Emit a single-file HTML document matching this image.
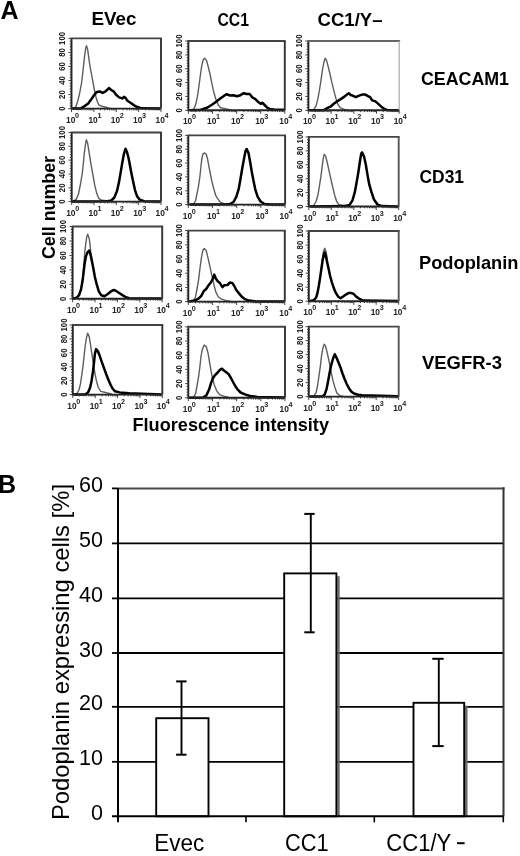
<!DOCTYPE html><html><head><meta charset="utf-8"><style>html,body{margin:0;padding:0;background:#fff;width:520px;height:856px;overflow:hidden}svg{display:block}</style></head><body>
<svg style="filter:grayscale(1) blur(0.3px)" width="520" height="856" viewBox="0 0 520 856" font-family='"Liberation Sans", sans-serif'>
<rect width="520" height="856" fill="#fff"/>
<text x="0.5" y="18.5" font-size="25" font-weight="bold" fill="#000">A</text>
<text x="-2" y="493" font-size="25" font-weight="bold" fill="#000">B</text>
<text x="91.5" y="24.6" font-size="19.0" font-weight="bold" fill="#000" textLength="45.0" lengthAdjust="spacingAndGlyphs">EVec</text>
<text x="217.5" y="25.8" font-size="19.0" font-weight="bold" fill="#000" textLength="31.5" lengthAdjust="spacingAndGlyphs">CC1</text>
<text x="317.5" y="25.8" font-size="19.0" font-weight="bold" fill="#000" textLength="65.0" lengthAdjust="spacingAndGlyphs">CC1/Y–</text>
<text x="421.0" y="85.4" font-size="19.0" font-weight="bold" fill="#000" textLength="88.0" lengthAdjust="spacingAndGlyphs">CEACAM1</text>
<text x="419.5" y="182.8" font-size="19.0" font-weight="bold" fill="#000" textLength="44.5" lengthAdjust="spacingAndGlyphs">CD31</text>
<text x="419.0" y="268.8" font-size="19.0" font-weight="bold" fill="#000" textLength="99.5" lengthAdjust="spacingAndGlyphs">Podoplanin</text>
<text x="422.0" y="368.5" font-size="19.0" font-weight="bold" fill="#000" textLength="80.0" lengthAdjust="spacingAndGlyphs">VEGFR-3</text>
<text x="132.5" y="430.8" font-size="19.0" font-weight="bold" fill="#000" textLength="196.5" lengthAdjust="spacingAndGlyphs">Fluorescence intensity</text>
<text transform="translate(54.5,259) rotate(-90)" x="0" y="0" font-size="19" font-weight="bold" fill="#000" textLength="103" lengthAdjust="spacingAndGlyphs">Cell number</text>
<polyline points="72.3,108.6 75.7,107.3 77.6,101.5 79.5,93.8 81.5,83.3 82.9,71.7 83.9,62.1 84.8,54.4 85.8,47.7 86.5,45.8 87.7,49.6 88.7,57.3 90.1,66.9 91.6,74.6 93.0,82.3 94.4,90.0 95.9,96.7 97.3,101.5 98.8,104.9 101.7,106.3 106.5,107.3 109.3,108.3 112.0,108.6" fill="none" stroke="#5e5e5e" stroke-width="1.4" stroke-linejoin="round"/>
<polyline points="72.3,108.6 80.5,108.5 84.3,106.3 88.2,103.5 91.1,99.6 94.0,95.3 96.8,91.9 99.7,91.4 102.6,92.9 105.5,91.4 108.9,88.1 111.3,90.0 113.9,91.6 116.3,95.0 119.2,97.4 122.1,98.4 124.0,96.9 125.5,97.9 127.4,100.8 131.2,103.2 135.1,106.1 138.9,107.5 140.8,108.3 160.0,108.5" fill="none" stroke="#000" stroke-width="2.5" stroke-linejoin="round"/>
<path d="M71.5 38.4V108.6H161.0" fill="none" stroke="#222" stroke-width="1.9"/>
<line x1="70.6" y1="38.4" x2="161.9" y2="38.4" stroke="#444" stroke-width="1.9"/>
<line x1="161.0" y1="38.4" x2="161.0" y2="108.6" stroke="#333" stroke-width="1.9"/>
<line x1="68.3" y1="108.6" x2="71.5" y2="108.6" stroke="#333" stroke-width="0.9"/>
<line x1="69.7" y1="105.8" x2="71.5" y2="105.8" stroke="#333" stroke-width="0.9"/>
<line x1="69.7" y1="103.0" x2="71.5" y2="103.0" stroke="#333" stroke-width="0.9"/>
<line x1="69.7" y1="100.2" x2="71.5" y2="100.2" stroke="#333" stroke-width="0.9"/>
<line x1="69.7" y1="97.4" x2="71.5" y2="97.4" stroke="#333" stroke-width="0.9"/>
<line x1="68.3" y1="94.6" x2="71.5" y2="94.6" stroke="#333" stroke-width="0.9"/>
<line x1="69.7" y1="91.8" x2="71.5" y2="91.8" stroke="#333" stroke-width="0.9"/>
<line x1="69.7" y1="88.9" x2="71.5" y2="88.9" stroke="#333" stroke-width="0.9"/>
<line x1="69.7" y1="86.1" x2="71.5" y2="86.1" stroke="#333" stroke-width="0.9"/>
<line x1="69.7" y1="83.3" x2="71.5" y2="83.3" stroke="#333" stroke-width="0.9"/>
<line x1="68.3" y1="80.5" x2="71.5" y2="80.5" stroke="#333" stroke-width="0.9"/>
<line x1="69.7" y1="77.7" x2="71.5" y2="77.7" stroke="#333" stroke-width="0.9"/>
<line x1="69.7" y1="74.9" x2="71.5" y2="74.9" stroke="#333" stroke-width="0.9"/>
<line x1="69.7" y1="72.1" x2="71.5" y2="72.1" stroke="#333" stroke-width="0.9"/>
<line x1="69.7" y1="69.3" x2="71.5" y2="69.3" stroke="#333" stroke-width="0.9"/>
<line x1="68.3" y1="66.5" x2="71.5" y2="66.5" stroke="#333" stroke-width="0.9"/>
<line x1="69.7" y1="63.7" x2="71.5" y2="63.7" stroke="#333" stroke-width="0.9"/>
<line x1="69.7" y1="60.9" x2="71.5" y2="60.9" stroke="#333" stroke-width="0.9"/>
<line x1="69.7" y1="58.1" x2="71.5" y2="58.1" stroke="#333" stroke-width="0.9"/>
<line x1="69.7" y1="55.2" x2="71.5" y2="55.2" stroke="#333" stroke-width="0.9"/>
<line x1="68.3" y1="52.4" x2="71.5" y2="52.4" stroke="#333" stroke-width="0.9"/>
<line x1="69.7" y1="49.6" x2="71.5" y2="49.6" stroke="#333" stroke-width="0.9"/>
<line x1="69.7" y1="46.8" x2="71.5" y2="46.8" stroke="#333" stroke-width="0.9"/>
<line x1="69.7" y1="44.0" x2="71.5" y2="44.0" stroke="#333" stroke-width="0.9"/>
<line x1="69.7" y1="41.2" x2="71.5" y2="41.2" stroke="#333" stroke-width="0.9"/>
<line x1="68.3" y1="38.4" x2="71.5" y2="38.4" stroke="#333" stroke-width="0.9"/>
<text transform="translate(65.2,108.6) rotate(-90) scale(0.82,1.05)" font-size="9.5" font-weight="bold" fill="#222" text-anchor="middle">0</text>
<text transform="translate(65.2,94.6) rotate(-90) scale(0.82,1.05)" font-size="9.5" font-weight="bold" fill="#222" text-anchor="middle">20</text>
<text transform="translate(65.2,80.5) rotate(-90) scale(0.82,1.05)" font-size="9.5" font-weight="bold" fill="#222" text-anchor="middle">40</text>
<text transform="translate(65.2,66.5) rotate(-90) scale(0.82,1.05)" font-size="9.5" font-weight="bold" fill="#222" text-anchor="middle">60</text>
<text transform="translate(65.2,52.4) rotate(-90) scale(0.82,1.05)" font-size="9.5" font-weight="bold" fill="#222" text-anchor="middle">80</text>
<text transform="translate(65.2,38.4) rotate(-90) scale(0.82,1.05)" font-size="9.5" font-weight="bold" fill="#222" text-anchor="middle">100</text>
<line x1="71.5" y1="108.6" x2="71.5" y2="112.1" stroke="#333" stroke-width="0.9"/>
<line x1="78.2" y1="108.6" x2="78.2" y2="110.4" stroke="#333" stroke-width="0.9"/>
<line x1="82.2" y1="108.6" x2="82.2" y2="110.4" stroke="#333" stroke-width="0.9"/>
<line x1="85.0" y1="108.6" x2="85.0" y2="110.4" stroke="#333" stroke-width="0.9"/>
<line x1="87.1" y1="108.6" x2="87.1" y2="110.4" stroke="#333" stroke-width="0.9"/>
<line x1="88.9" y1="108.6" x2="88.9" y2="110.4" stroke="#333" stroke-width="0.9"/>
<line x1="90.4" y1="108.6" x2="90.4" y2="110.4" stroke="#333" stroke-width="0.9"/>
<line x1="91.7" y1="108.6" x2="91.7" y2="110.4" stroke="#333" stroke-width="0.9"/>
<line x1="92.9" y1="108.6" x2="92.9" y2="110.4" stroke="#333" stroke-width="0.9"/>
<line x1="93.9" y1="108.6" x2="93.9" y2="112.1" stroke="#333" stroke-width="0.9"/>
<line x1="100.6" y1="108.6" x2="100.6" y2="110.4" stroke="#333" stroke-width="0.9"/>
<line x1="104.6" y1="108.6" x2="104.6" y2="110.4" stroke="#333" stroke-width="0.9"/>
<line x1="107.3" y1="108.6" x2="107.3" y2="110.4" stroke="#333" stroke-width="0.9"/>
<line x1="109.5" y1="108.6" x2="109.5" y2="110.4" stroke="#333" stroke-width="0.9"/>
<line x1="111.3" y1="108.6" x2="111.3" y2="110.4" stroke="#333" stroke-width="0.9"/>
<line x1="112.8" y1="108.6" x2="112.8" y2="110.4" stroke="#333" stroke-width="0.9"/>
<line x1="114.1" y1="108.6" x2="114.1" y2="110.4" stroke="#333" stroke-width="0.9"/>
<line x1="115.2" y1="108.6" x2="115.2" y2="110.4" stroke="#333" stroke-width="0.9"/>
<line x1="116.2" y1="108.6" x2="116.2" y2="112.1" stroke="#333" stroke-width="0.9"/>
<line x1="123.0" y1="108.6" x2="123.0" y2="110.4" stroke="#333" stroke-width="0.9"/>
<line x1="126.9" y1="108.6" x2="126.9" y2="110.4" stroke="#333" stroke-width="0.9"/>
<line x1="129.7" y1="108.6" x2="129.7" y2="110.4" stroke="#333" stroke-width="0.9"/>
<line x1="131.9" y1="108.6" x2="131.9" y2="110.4" stroke="#333" stroke-width="0.9"/>
<line x1="133.7" y1="108.6" x2="133.7" y2="110.4" stroke="#333" stroke-width="0.9"/>
<line x1="135.2" y1="108.6" x2="135.2" y2="110.4" stroke="#333" stroke-width="0.9"/>
<line x1="136.5" y1="108.6" x2="136.5" y2="110.4" stroke="#333" stroke-width="0.9"/>
<line x1="137.6" y1="108.6" x2="137.6" y2="110.4" stroke="#333" stroke-width="0.9"/>
<line x1="138.6" y1="108.6" x2="138.6" y2="112.1" stroke="#333" stroke-width="0.9"/>
<line x1="145.4" y1="108.6" x2="145.4" y2="110.4" stroke="#333" stroke-width="0.9"/>
<line x1="149.3" y1="108.6" x2="149.3" y2="110.4" stroke="#333" stroke-width="0.9"/>
<line x1="152.1" y1="108.6" x2="152.1" y2="110.4" stroke="#333" stroke-width="0.9"/>
<line x1="154.3" y1="108.6" x2="154.3" y2="110.4" stroke="#333" stroke-width="0.9"/>
<line x1="156.0" y1="108.6" x2="156.0" y2="110.4" stroke="#333" stroke-width="0.9"/>
<line x1="157.5" y1="108.6" x2="157.5" y2="110.4" stroke="#333" stroke-width="0.9"/>
<line x1="158.8" y1="108.6" x2="158.8" y2="110.4" stroke="#333" stroke-width="0.9"/>
<line x1="160.0" y1="108.6" x2="160.0" y2="110.4" stroke="#333" stroke-width="0.9"/>
<line x1="161.0" y1="108.6" x2="161.0" y2="112.1" stroke="#333" stroke-width="0.9"/>
<text transform="translate(66.0,122.6) scale(0.9,1)" font-size="9.3" font-weight="bold" fill="#222">10<tspan font-size="8" dx="-0.3" dy="-5.0">0</tspan></text>
<text transform="translate(88.4,122.6) scale(0.9,1)" font-size="9.3" font-weight="bold" fill="#222">10<tspan font-size="8" dx="-0.3" dy="-5.0">1</tspan></text>
<text transform="translate(110.8,122.6) scale(0.9,1)" font-size="9.3" font-weight="bold" fill="#222">10<tspan font-size="8" dx="-0.3" dy="-5.0">2</tspan></text>
<text transform="translate(133.1,122.6) scale(0.9,1)" font-size="9.3" font-weight="bold" fill="#222">10<tspan font-size="8" dx="-0.3" dy="-5.0">3</tspan></text>
<text transform="translate(155.5,122.6) scale(0.9,1)" font-size="9.3" font-weight="bold" fill="#222">10<tspan font-size="8" dx="-0.3" dy="-5.0">4</tspan></text>
<polyline points="189.8,110.3 193.7,109.1 195.6,104.8 197.5,96.2 198.9,86.5 200.4,75.0 201.8,65.4 203.3,59.6 204.7,58.2 206.6,60.6 208.1,66.3 210.0,74.0 211.9,83.7 213.8,92.3 215.8,99.0 218.2,104.8 220.6,107.7 225.4,108.7 231.2,110.1" fill="none" stroke="#5e5e5e" stroke-width="1.4" stroke-linejoin="round"/>
<polyline points="189.8,110.3 199.4,110.1 207.1,107.7 211.9,104.8 215.8,101.9 219.6,99.0 223.5,96.2 226.3,94.2 230.2,95.5 233.5,95.2 236.9,96.3 240.4,95.2 243.8,93.2 246.7,94.0 249.6,94.0 252.5,97.5 255.4,99.2 258.3,102.1 260.6,103.8 262.3,102.7 264.6,105.0 266.9,107.3 269.8,109.0 273.8,109.6 284.2,109.8" fill="none" stroke="#000" stroke-width="2.5" stroke-linejoin="round"/>
<path d="M188.4 41.0V110.3H284.8" fill="none" stroke="#222" stroke-width="1.9"/>
<line x1="187.5" y1="41.0" x2="285.7" y2="41.0" stroke="#444" stroke-width="1.9"/>
<line x1="284.8" y1="41.0" x2="284.8" y2="110.3" stroke="#333" stroke-width="1.9"/>
<line x1="185.2" y1="110.3" x2="188.4" y2="110.3" stroke="#333" stroke-width="0.9"/>
<line x1="186.6" y1="107.5" x2="188.4" y2="107.5" stroke="#333" stroke-width="0.9"/>
<line x1="186.6" y1="104.8" x2="188.4" y2="104.8" stroke="#333" stroke-width="0.9"/>
<line x1="186.6" y1="102.0" x2="188.4" y2="102.0" stroke="#333" stroke-width="0.9"/>
<line x1="186.6" y1="99.2" x2="188.4" y2="99.2" stroke="#333" stroke-width="0.9"/>
<line x1="185.2" y1="96.4" x2="188.4" y2="96.4" stroke="#333" stroke-width="0.9"/>
<line x1="186.6" y1="93.7" x2="188.4" y2="93.7" stroke="#333" stroke-width="0.9"/>
<line x1="186.6" y1="90.9" x2="188.4" y2="90.9" stroke="#333" stroke-width="0.9"/>
<line x1="186.6" y1="88.1" x2="188.4" y2="88.1" stroke="#333" stroke-width="0.9"/>
<line x1="186.6" y1="85.4" x2="188.4" y2="85.4" stroke="#333" stroke-width="0.9"/>
<line x1="185.2" y1="82.6" x2="188.4" y2="82.6" stroke="#333" stroke-width="0.9"/>
<line x1="186.6" y1="79.8" x2="188.4" y2="79.8" stroke="#333" stroke-width="0.9"/>
<line x1="186.6" y1="77.0" x2="188.4" y2="77.0" stroke="#333" stroke-width="0.9"/>
<line x1="186.6" y1="74.3" x2="188.4" y2="74.3" stroke="#333" stroke-width="0.9"/>
<line x1="186.6" y1="71.5" x2="188.4" y2="71.5" stroke="#333" stroke-width="0.9"/>
<line x1="185.2" y1="68.7" x2="188.4" y2="68.7" stroke="#333" stroke-width="0.9"/>
<line x1="186.6" y1="65.9" x2="188.4" y2="65.9" stroke="#333" stroke-width="0.9"/>
<line x1="186.6" y1="63.2" x2="188.4" y2="63.2" stroke="#333" stroke-width="0.9"/>
<line x1="186.6" y1="60.4" x2="188.4" y2="60.4" stroke="#333" stroke-width="0.9"/>
<line x1="186.6" y1="57.6" x2="188.4" y2="57.6" stroke="#333" stroke-width="0.9"/>
<line x1="185.2" y1="54.9" x2="188.4" y2="54.9" stroke="#333" stroke-width="0.9"/>
<line x1="186.6" y1="52.1" x2="188.4" y2="52.1" stroke="#333" stroke-width="0.9"/>
<line x1="186.6" y1="49.3" x2="188.4" y2="49.3" stroke="#333" stroke-width="0.9"/>
<line x1="186.6" y1="46.5" x2="188.4" y2="46.5" stroke="#333" stroke-width="0.9"/>
<line x1="186.6" y1="43.8" x2="188.4" y2="43.8" stroke="#333" stroke-width="0.9"/>
<line x1="185.2" y1="41.0" x2="188.4" y2="41.0" stroke="#333" stroke-width="0.9"/>
<text transform="translate(182.1,110.3) rotate(-90) scale(0.82,1.05)" font-size="9.5" font-weight="bold" fill="#222" text-anchor="middle">0</text>
<text transform="translate(182.1,96.4) rotate(-90) scale(0.82,1.05)" font-size="9.5" font-weight="bold" fill="#222" text-anchor="middle">20</text>
<text transform="translate(182.1,82.6) rotate(-90) scale(0.82,1.05)" font-size="9.5" font-weight="bold" fill="#222" text-anchor="middle">40</text>
<text transform="translate(182.1,68.7) rotate(-90) scale(0.82,1.05)" font-size="9.5" font-weight="bold" fill="#222" text-anchor="middle">60</text>
<text transform="translate(182.1,54.9) rotate(-90) scale(0.82,1.05)" font-size="9.5" font-weight="bold" fill="#222" text-anchor="middle">80</text>
<text transform="translate(182.1,41.0) rotate(-90) scale(0.82,1.05)" font-size="9.5" font-weight="bold" fill="#222" text-anchor="middle">100</text>
<line x1="188.4" y1="110.3" x2="188.4" y2="113.8" stroke="#333" stroke-width="0.9"/>
<line x1="195.7" y1="110.3" x2="195.7" y2="112.1" stroke="#333" stroke-width="0.9"/>
<line x1="199.9" y1="110.3" x2="199.9" y2="112.1" stroke="#333" stroke-width="0.9"/>
<line x1="202.9" y1="110.3" x2="202.9" y2="112.1" stroke="#333" stroke-width="0.9"/>
<line x1="205.2" y1="110.3" x2="205.2" y2="112.1" stroke="#333" stroke-width="0.9"/>
<line x1="207.2" y1="110.3" x2="207.2" y2="112.1" stroke="#333" stroke-width="0.9"/>
<line x1="208.8" y1="110.3" x2="208.8" y2="112.1" stroke="#333" stroke-width="0.9"/>
<line x1="210.2" y1="110.3" x2="210.2" y2="112.1" stroke="#333" stroke-width="0.9"/>
<line x1="211.4" y1="110.3" x2="211.4" y2="112.1" stroke="#333" stroke-width="0.9"/>
<line x1="212.5" y1="110.3" x2="212.5" y2="113.8" stroke="#333" stroke-width="0.9"/>
<line x1="219.8" y1="110.3" x2="219.8" y2="112.1" stroke="#333" stroke-width="0.9"/>
<line x1="224.0" y1="110.3" x2="224.0" y2="112.1" stroke="#333" stroke-width="0.9"/>
<line x1="227.0" y1="110.3" x2="227.0" y2="112.1" stroke="#333" stroke-width="0.9"/>
<line x1="229.3" y1="110.3" x2="229.3" y2="112.1" stroke="#333" stroke-width="0.9"/>
<line x1="231.3" y1="110.3" x2="231.3" y2="112.1" stroke="#333" stroke-width="0.9"/>
<line x1="232.9" y1="110.3" x2="232.9" y2="112.1" stroke="#333" stroke-width="0.9"/>
<line x1="234.3" y1="110.3" x2="234.3" y2="112.1" stroke="#333" stroke-width="0.9"/>
<line x1="235.5" y1="110.3" x2="235.5" y2="112.1" stroke="#333" stroke-width="0.9"/>
<line x1="236.6" y1="110.3" x2="236.6" y2="113.8" stroke="#333" stroke-width="0.9"/>
<line x1="243.9" y1="110.3" x2="243.9" y2="112.1" stroke="#333" stroke-width="0.9"/>
<line x1="248.1" y1="110.3" x2="248.1" y2="112.1" stroke="#333" stroke-width="0.9"/>
<line x1="251.1" y1="110.3" x2="251.1" y2="112.1" stroke="#333" stroke-width="0.9"/>
<line x1="253.4" y1="110.3" x2="253.4" y2="112.1" stroke="#333" stroke-width="0.9"/>
<line x1="255.4" y1="110.3" x2="255.4" y2="112.1" stroke="#333" stroke-width="0.9"/>
<line x1="257.0" y1="110.3" x2="257.0" y2="112.1" stroke="#333" stroke-width="0.9"/>
<line x1="258.4" y1="110.3" x2="258.4" y2="112.1" stroke="#333" stroke-width="0.9"/>
<line x1="259.6" y1="110.3" x2="259.6" y2="112.1" stroke="#333" stroke-width="0.9"/>
<line x1="260.7" y1="110.3" x2="260.7" y2="113.8" stroke="#333" stroke-width="0.9"/>
<line x1="268.0" y1="110.3" x2="268.0" y2="112.1" stroke="#333" stroke-width="0.9"/>
<line x1="272.2" y1="110.3" x2="272.2" y2="112.1" stroke="#333" stroke-width="0.9"/>
<line x1="275.2" y1="110.3" x2="275.2" y2="112.1" stroke="#333" stroke-width="0.9"/>
<line x1="277.5" y1="110.3" x2="277.5" y2="112.1" stroke="#333" stroke-width="0.9"/>
<line x1="279.5" y1="110.3" x2="279.5" y2="112.1" stroke="#333" stroke-width="0.9"/>
<line x1="281.1" y1="110.3" x2="281.1" y2="112.1" stroke="#333" stroke-width="0.9"/>
<line x1="282.5" y1="110.3" x2="282.5" y2="112.1" stroke="#333" stroke-width="0.9"/>
<line x1="283.7" y1="110.3" x2="283.7" y2="112.1" stroke="#333" stroke-width="0.9"/>
<line x1="284.8" y1="110.3" x2="284.8" y2="113.8" stroke="#333" stroke-width="0.9"/>
<text transform="translate(182.9,124.3) scale(0.9,1)" font-size="9.3" font-weight="bold" fill="#222">10<tspan font-size="8" dx="-0.3" dy="-5.0">0</tspan></text>
<text transform="translate(207.0,124.3) scale(0.9,1)" font-size="9.3" font-weight="bold" fill="#222">10<tspan font-size="8" dx="-0.3" dy="-5.0">1</tspan></text>
<text transform="translate(231.1,124.3) scale(0.9,1)" font-size="9.3" font-weight="bold" fill="#222">10<tspan font-size="8" dx="-0.3" dy="-5.0">2</tspan></text>
<text transform="translate(255.2,124.3) scale(0.9,1)" font-size="9.3" font-weight="bold" fill="#222">10<tspan font-size="8" dx="-0.3" dy="-5.0">3</tspan></text>
<text transform="translate(279.3,124.3) scale(0.9,1)" font-size="9.3" font-weight="bold" fill="#222">10<tspan font-size="8" dx="-0.3" dy="-5.0">4</tspan></text>
<polyline points="309.3,110.3 313.7,109.6 316.1,105.8 318.0,98.1 319.4,90.4 320.9,80.8 322.3,71.2 323.8,62.5 325.2,58.2 326.6,60.6 328.1,66.3 330.0,74.0 331.9,82.7 333.8,90.4 335.8,98.1 337.7,103.8 340.1,107.7 343.5,109.1 347.3,110.1" fill="none" stroke="#5e5e5e" stroke-width="1.4" stroke-linejoin="round"/>
<polyline points="309.3,110.3 323.3,110.3 327.1,108.2 331.0,106.3 333.8,103.8 337.7,101.0 341.5,98.6 344.4,96.6 347.3,94.2 348.8,93.3 350.7,95.0 352.6,95.6 355.8,97.2 359.0,95.6 362.2,94.6 365.3,94.6 368.0,96.2 370.1,97.2 372.2,100.4 375.4,101.4 378.0,103.6 380.7,106.2 383.8,108.6 387.0,109.9 392.3,110.3 399.0,110.3" fill="none" stroke="#000" stroke-width="2.5" stroke-linejoin="round"/>
<path d="M308.4 41.0V110.3H399.2" fill="none" stroke="#222" stroke-width="1.9"/>
<line x1="307.5" y1="41.0" x2="400.1" y2="41.0" stroke="#666" stroke-width="1.9"/>
<line x1="399.2" y1="41.0" x2="399.2" y2="110.3" stroke="#aaa" stroke-width="1.2"/>
<line x1="305.2" y1="110.3" x2="308.4" y2="110.3" stroke="#333" stroke-width="0.9"/>
<line x1="306.6" y1="107.5" x2="308.4" y2="107.5" stroke="#333" stroke-width="0.9"/>
<line x1="306.6" y1="104.8" x2="308.4" y2="104.8" stroke="#333" stroke-width="0.9"/>
<line x1="306.6" y1="102.0" x2="308.4" y2="102.0" stroke="#333" stroke-width="0.9"/>
<line x1="306.6" y1="99.2" x2="308.4" y2="99.2" stroke="#333" stroke-width="0.9"/>
<line x1="305.2" y1="96.4" x2="308.4" y2="96.4" stroke="#333" stroke-width="0.9"/>
<line x1="306.6" y1="93.7" x2="308.4" y2="93.7" stroke="#333" stroke-width="0.9"/>
<line x1="306.6" y1="90.9" x2="308.4" y2="90.9" stroke="#333" stroke-width="0.9"/>
<line x1="306.6" y1="88.1" x2="308.4" y2="88.1" stroke="#333" stroke-width="0.9"/>
<line x1="306.6" y1="85.4" x2="308.4" y2="85.4" stroke="#333" stroke-width="0.9"/>
<line x1="305.2" y1="82.6" x2="308.4" y2="82.6" stroke="#333" stroke-width="0.9"/>
<line x1="306.6" y1="79.8" x2="308.4" y2="79.8" stroke="#333" stroke-width="0.9"/>
<line x1="306.6" y1="77.0" x2="308.4" y2="77.0" stroke="#333" stroke-width="0.9"/>
<line x1="306.6" y1="74.3" x2="308.4" y2="74.3" stroke="#333" stroke-width="0.9"/>
<line x1="306.6" y1="71.5" x2="308.4" y2="71.5" stroke="#333" stroke-width="0.9"/>
<line x1="305.2" y1="68.7" x2="308.4" y2="68.7" stroke="#333" stroke-width="0.9"/>
<line x1="306.6" y1="65.9" x2="308.4" y2="65.9" stroke="#333" stroke-width="0.9"/>
<line x1="306.6" y1="63.2" x2="308.4" y2="63.2" stroke="#333" stroke-width="0.9"/>
<line x1="306.6" y1="60.4" x2="308.4" y2="60.4" stroke="#333" stroke-width="0.9"/>
<line x1="306.6" y1="57.6" x2="308.4" y2="57.6" stroke="#333" stroke-width="0.9"/>
<line x1="305.2" y1="54.9" x2="308.4" y2="54.9" stroke="#333" stroke-width="0.9"/>
<line x1="306.6" y1="52.1" x2="308.4" y2="52.1" stroke="#333" stroke-width="0.9"/>
<line x1="306.6" y1="49.3" x2="308.4" y2="49.3" stroke="#333" stroke-width="0.9"/>
<line x1="306.6" y1="46.5" x2="308.4" y2="46.5" stroke="#333" stroke-width="0.9"/>
<line x1="306.6" y1="43.8" x2="308.4" y2="43.8" stroke="#333" stroke-width="0.9"/>
<line x1="305.2" y1="41.0" x2="308.4" y2="41.0" stroke="#333" stroke-width="0.9"/>
<text transform="translate(302.1,110.3) rotate(-90) scale(0.82,1.05)" font-size="9.5" font-weight="bold" fill="#222" text-anchor="middle">0</text>
<text transform="translate(302.1,96.4) rotate(-90) scale(0.82,1.05)" font-size="9.5" font-weight="bold" fill="#222" text-anchor="middle">20</text>
<text transform="translate(302.1,82.6) rotate(-90) scale(0.82,1.05)" font-size="9.5" font-weight="bold" fill="#222" text-anchor="middle">40</text>
<text transform="translate(302.1,68.7) rotate(-90) scale(0.82,1.05)" font-size="9.5" font-weight="bold" fill="#222" text-anchor="middle">60</text>
<text transform="translate(302.1,54.9) rotate(-90) scale(0.82,1.05)" font-size="9.5" font-weight="bold" fill="#222" text-anchor="middle">80</text>
<text transform="translate(302.1,41.0) rotate(-90) scale(0.82,1.05)" font-size="9.5" font-weight="bold" fill="#222" text-anchor="middle">100</text>
<line x1="308.4" y1="110.3" x2="308.4" y2="113.8" stroke="#333" stroke-width="0.9"/>
<line x1="315.2" y1="110.3" x2="315.2" y2="112.1" stroke="#333" stroke-width="0.9"/>
<line x1="319.2" y1="110.3" x2="319.2" y2="112.1" stroke="#333" stroke-width="0.9"/>
<line x1="322.1" y1="110.3" x2="322.1" y2="112.1" stroke="#333" stroke-width="0.9"/>
<line x1="324.3" y1="110.3" x2="324.3" y2="112.1" stroke="#333" stroke-width="0.9"/>
<line x1="326.1" y1="110.3" x2="326.1" y2="112.1" stroke="#333" stroke-width="0.9"/>
<line x1="327.6" y1="110.3" x2="327.6" y2="112.1" stroke="#333" stroke-width="0.9"/>
<line x1="328.9" y1="110.3" x2="328.9" y2="112.1" stroke="#333" stroke-width="0.9"/>
<line x1="330.1" y1="110.3" x2="330.1" y2="112.1" stroke="#333" stroke-width="0.9"/>
<line x1="331.1" y1="110.3" x2="331.1" y2="113.8" stroke="#333" stroke-width="0.9"/>
<line x1="337.9" y1="110.3" x2="337.9" y2="112.1" stroke="#333" stroke-width="0.9"/>
<line x1="341.9" y1="110.3" x2="341.9" y2="112.1" stroke="#333" stroke-width="0.9"/>
<line x1="344.8" y1="110.3" x2="344.8" y2="112.1" stroke="#333" stroke-width="0.9"/>
<line x1="347.0" y1="110.3" x2="347.0" y2="112.1" stroke="#333" stroke-width="0.9"/>
<line x1="348.8" y1="110.3" x2="348.8" y2="112.1" stroke="#333" stroke-width="0.9"/>
<line x1="350.3" y1="110.3" x2="350.3" y2="112.1" stroke="#333" stroke-width="0.9"/>
<line x1="351.6" y1="110.3" x2="351.6" y2="112.1" stroke="#333" stroke-width="0.9"/>
<line x1="352.8" y1="110.3" x2="352.8" y2="112.1" stroke="#333" stroke-width="0.9"/>
<line x1="353.8" y1="110.3" x2="353.8" y2="113.8" stroke="#333" stroke-width="0.9"/>
<line x1="360.6" y1="110.3" x2="360.6" y2="112.1" stroke="#333" stroke-width="0.9"/>
<line x1="364.6" y1="110.3" x2="364.6" y2="112.1" stroke="#333" stroke-width="0.9"/>
<line x1="367.5" y1="110.3" x2="367.5" y2="112.1" stroke="#333" stroke-width="0.9"/>
<line x1="369.7" y1="110.3" x2="369.7" y2="112.1" stroke="#333" stroke-width="0.9"/>
<line x1="371.5" y1="110.3" x2="371.5" y2="112.1" stroke="#333" stroke-width="0.9"/>
<line x1="373.0" y1="110.3" x2="373.0" y2="112.1" stroke="#333" stroke-width="0.9"/>
<line x1="374.3" y1="110.3" x2="374.3" y2="112.1" stroke="#333" stroke-width="0.9"/>
<line x1="375.5" y1="110.3" x2="375.5" y2="112.1" stroke="#333" stroke-width="0.9"/>
<line x1="376.5" y1="110.3" x2="376.5" y2="113.8" stroke="#333" stroke-width="0.9"/>
<line x1="383.3" y1="110.3" x2="383.3" y2="112.1" stroke="#333" stroke-width="0.9"/>
<line x1="387.3" y1="110.3" x2="387.3" y2="112.1" stroke="#333" stroke-width="0.9"/>
<line x1="390.2" y1="110.3" x2="390.2" y2="112.1" stroke="#333" stroke-width="0.9"/>
<line x1="392.4" y1="110.3" x2="392.4" y2="112.1" stroke="#333" stroke-width="0.9"/>
<line x1="394.2" y1="110.3" x2="394.2" y2="112.1" stroke="#333" stroke-width="0.9"/>
<line x1="395.7" y1="110.3" x2="395.7" y2="112.1" stroke="#333" stroke-width="0.9"/>
<line x1="397.0" y1="110.3" x2="397.0" y2="112.1" stroke="#333" stroke-width="0.9"/>
<line x1="398.2" y1="110.3" x2="398.2" y2="112.1" stroke="#333" stroke-width="0.9"/>
<line x1="399.2" y1="110.3" x2="399.2" y2="113.8" stroke="#333" stroke-width="0.9"/>
<text transform="translate(302.9,124.3) scale(0.9,1)" font-size="9.3" font-weight="bold" fill="#222">10<tspan font-size="8" dx="-0.3" dy="-5.0">0</tspan></text>
<text transform="translate(325.6,124.3) scale(0.9,1)" font-size="9.3" font-weight="bold" fill="#222">10<tspan font-size="8" dx="-0.3" dy="-5.0">1</tspan></text>
<text transform="translate(348.3,124.3) scale(0.9,1)" font-size="9.3" font-weight="bold" fill="#222">10<tspan font-size="8" dx="-0.3" dy="-5.0">2</tspan></text>
<text transform="translate(371.0,124.3) scale(0.9,1)" font-size="9.3" font-weight="bold" fill="#222">10<tspan font-size="8" dx="-0.3" dy="-5.0">3</tspan></text>
<text transform="translate(393.7,124.3) scale(0.9,1)" font-size="9.3" font-weight="bold" fill="#222">10<tspan font-size="8" dx="-0.3" dy="-5.0">4</tspan></text>
<polyline points="72.3,201.6 76.2,199.4 78.6,193.6 80.5,184.0 82.4,172.5 83.4,162.8 84.3,153.2 85.3,145.5 86.3,139.8 87.7,143.6 89.2,153.2 91.1,164.8 93.0,175.3 94.9,185.9 96.8,193.6 98.8,198.4 101.7,200.3 106.5,200.8 109.3,200.5" fill="none" stroke="#5e5e5e" stroke-width="1.4" stroke-linejoin="round"/>
<polyline points="72.3,201.6 108.0,201.2 111.2,200.6 114.3,197.5 117.0,191.1 119.1,181.6 120.7,172.1 122.3,162.6 123.9,154.1 125.5,148.8 127.0,152.0 128.6,158.3 130.2,166.8 131.8,175.2 133.4,182.7 135.0,190.1 137.1,196.4 139.7,199.6 144.0,201.2 160.5,201.4" fill="none" stroke="#000" stroke-width="2.5" stroke-linejoin="round"/>
<path d="M71.7 132.5V201.6H161.0" fill="none" stroke="#222" stroke-width="1.9"/>
<line x1="70.8" y1="132.5" x2="161.9" y2="132.5" stroke="#444" stroke-width="1.9"/>
<line x1="161.0" y1="132.5" x2="161.0" y2="201.6" stroke="#333" stroke-width="1.9"/>
<line x1="68.5" y1="201.6" x2="71.7" y2="201.6" stroke="#333" stroke-width="0.9"/>
<line x1="69.9" y1="198.8" x2="71.7" y2="198.8" stroke="#333" stroke-width="0.9"/>
<line x1="69.9" y1="196.1" x2="71.7" y2="196.1" stroke="#333" stroke-width="0.9"/>
<line x1="69.9" y1="193.3" x2="71.7" y2="193.3" stroke="#333" stroke-width="0.9"/>
<line x1="69.9" y1="190.5" x2="71.7" y2="190.5" stroke="#333" stroke-width="0.9"/>
<line x1="68.5" y1="187.8" x2="71.7" y2="187.8" stroke="#333" stroke-width="0.9"/>
<line x1="69.9" y1="185.0" x2="71.7" y2="185.0" stroke="#333" stroke-width="0.9"/>
<line x1="69.9" y1="182.3" x2="71.7" y2="182.3" stroke="#333" stroke-width="0.9"/>
<line x1="69.9" y1="179.5" x2="71.7" y2="179.5" stroke="#333" stroke-width="0.9"/>
<line x1="69.9" y1="176.7" x2="71.7" y2="176.7" stroke="#333" stroke-width="0.9"/>
<line x1="68.5" y1="174.0" x2="71.7" y2="174.0" stroke="#333" stroke-width="0.9"/>
<line x1="69.9" y1="171.2" x2="71.7" y2="171.2" stroke="#333" stroke-width="0.9"/>
<line x1="69.9" y1="168.4" x2="71.7" y2="168.4" stroke="#333" stroke-width="0.9"/>
<line x1="69.9" y1="165.7" x2="71.7" y2="165.7" stroke="#333" stroke-width="0.9"/>
<line x1="69.9" y1="162.9" x2="71.7" y2="162.9" stroke="#333" stroke-width="0.9"/>
<line x1="68.5" y1="160.1" x2="71.7" y2="160.1" stroke="#333" stroke-width="0.9"/>
<line x1="69.9" y1="157.4" x2="71.7" y2="157.4" stroke="#333" stroke-width="0.9"/>
<line x1="69.9" y1="154.6" x2="71.7" y2="154.6" stroke="#333" stroke-width="0.9"/>
<line x1="69.9" y1="151.8" x2="71.7" y2="151.8" stroke="#333" stroke-width="0.9"/>
<line x1="69.9" y1="149.1" x2="71.7" y2="149.1" stroke="#333" stroke-width="0.9"/>
<line x1="68.5" y1="146.3" x2="71.7" y2="146.3" stroke="#333" stroke-width="0.9"/>
<line x1="69.9" y1="143.6" x2="71.7" y2="143.6" stroke="#333" stroke-width="0.9"/>
<line x1="69.9" y1="140.8" x2="71.7" y2="140.8" stroke="#333" stroke-width="0.9"/>
<line x1="69.9" y1="138.0" x2="71.7" y2="138.0" stroke="#333" stroke-width="0.9"/>
<line x1="69.9" y1="135.3" x2="71.7" y2="135.3" stroke="#333" stroke-width="0.9"/>
<line x1="68.5" y1="132.5" x2="71.7" y2="132.5" stroke="#333" stroke-width="0.9"/>
<text transform="translate(65.4,201.6) rotate(-90) scale(0.82,1.05)" font-size="9.5" font-weight="bold" fill="#222" text-anchor="middle">0</text>
<text transform="translate(65.4,187.8) rotate(-90) scale(0.82,1.05)" font-size="9.5" font-weight="bold" fill="#222" text-anchor="middle">20</text>
<text transform="translate(65.4,174.0) rotate(-90) scale(0.82,1.05)" font-size="9.5" font-weight="bold" fill="#222" text-anchor="middle">40</text>
<text transform="translate(65.4,160.1) rotate(-90) scale(0.82,1.05)" font-size="9.5" font-weight="bold" fill="#222" text-anchor="middle">60</text>
<text transform="translate(65.4,146.3) rotate(-90) scale(0.82,1.05)" font-size="9.5" font-weight="bold" fill="#222" text-anchor="middle">80</text>
<text transform="translate(65.4,132.5) rotate(-90) scale(0.82,1.05)" font-size="9.5" font-weight="bold" fill="#222" text-anchor="middle">100</text>
<line x1="71.7" y1="201.6" x2="71.7" y2="205.1" stroke="#333" stroke-width="0.9"/>
<line x1="78.4" y1="201.6" x2="78.4" y2="203.4" stroke="#333" stroke-width="0.9"/>
<line x1="82.4" y1="201.6" x2="82.4" y2="203.4" stroke="#333" stroke-width="0.9"/>
<line x1="85.1" y1="201.6" x2="85.1" y2="203.4" stroke="#333" stroke-width="0.9"/>
<line x1="87.3" y1="201.6" x2="87.3" y2="203.4" stroke="#333" stroke-width="0.9"/>
<line x1="89.1" y1="201.6" x2="89.1" y2="203.4" stroke="#333" stroke-width="0.9"/>
<line x1="90.6" y1="201.6" x2="90.6" y2="203.4" stroke="#333" stroke-width="0.9"/>
<line x1="91.9" y1="201.6" x2="91.9" y2="203.4" stroke="#333" stroke-width="0.9"/>
<line x1="93.0" y1="201.6" x2="93.0" y2="203.4" stroke="#333" stroke-width="0.9"/>
<line x1="94.0" y1="201.6" x2="94.0" y2="205.1" stroke="#333" stroke-width="0.9"/>
<line x1="100.7" y1="201.6" x2="100.7" y2="203.4" stroke="#333" stroke-width="0.9"/>
<line x1="104.7" y1="201.6" x2="104.7" y2="203.4" stroke="#333" stroke-width="0.9"/>
<line x1="107.5" y1="201.6" x2="107.5" y2="203.4" stroke="#333" stroke-width="0.9"/>
<line x1="109.6" y1="201.6" x2="109.6" y2="203.4" stroke="#333" stroke-width="0.9"/>
<line x1="111.4" y1="201.6" x2="111.4" y2="203.4" stroke="#333" stroke-width="0.9"/>
<line x1="112.9" y1="201.6" x2="112.9" y2="203.4" stroke="#333" stroke-width="0.9"/>
<line x1="114.2" y1="201.6" x2="114.2" y2="203.4" stroke="#333" stroke-width="0.9"/>
<line x1="115.3" y1="201.6" x2="115.3" y2="203.4" stroke="#333" stroke-width="0.9"/>
<line x1="116.3" y1="201.6" x2="116.3" y2="205.1" stroke="#333" stroke-width="0.9"/>
<line x1="123.1" y1="201.6" x2="123.1" y2="203.4" stroke="#333" stroke-width="0.9"/>
<line x1="127.0" y1="201.6" x2="127.0" y2="203.4" stroke="#333" stroke-width="0.9"/>
<line x1="129.8" y1="201.6" x2="129.8" y2="203.4" stroke="#333" stroke-width="0.9"/>
<line x1="132.0" y1="201.6" x2="132.0" y2="203.4" stroke="#333" stroke-width="0.9"/>
<line x1="133.7" y1="201.6" x2="133.7" y2="203.4" stroke="#333" stroke-width="0.9"/>
<line x1="135.2" y1="201.6" x2="135.2" y2="203.4" stroke="#333" stroke-width="0.9"/>
<line x1="136.5" y1="201.6" x2="136.5" y2="203.4" stroke="#333" stroke-width="0.9"/>
<line x1="137.7" y1="201.6" x2="137.7" y2="203.4" stroke="#333" stroke-width="0.9"/>
<line x1="138.7" y1="201.6" x2="138.7" y2="205.1" stroke="#333" stroke-width="0.9"/>
<line x1="145.4" y1="201.6" x2="145.4" y2="203.4" stroke="#333" stroke-width="0.9"/>
<line x1="149.3" y1="201.6" x2="149.3" y2="203.4" stroke="#333" stroke-width="0.9"/>
<line x1="152.1" y1="201.6" x2="152.1" y2="203.4" stroke="#333" stroke-width="0.9"/>
<line x1="154.3" y1="201.6" x2="154.3" y2="203.4" stroke="#333" stroke-width="0.9"/>
<line x1="156.0" y1="201.6" x2="156.0" y2="203.4" stroke="#333" stroke-width="0.9"/>
<line x1="157.5" y1="201.6" x2="157.5" y2="203.4" stroke="#333" stroke-width="0.9"/>
<line x1="158.8" y1="201.6" x2="158.8" y2="203.4" stroke="#333" stroke-width="0.9"/>
<line x1="160.0" y1="201.6" x2="160.0" y2="203.4" stroke="#333" stroke-width="0.9"/>
<line x1="161.0" y1="201.6" x2="161.0" y2="205.1" stroke="#333" stroke-width="0.9"/>
<text transform="translate(66.2,215.6) scale(0.9,1)" font-size="9.3" font-weight="bold" fill="#222">10<tspan font-size="8" dx="-0.3" dy="-5.0">0</tspan></text>
<text transform="translate(88.5,215.6) scale(0.9,1)" font-size="9.3" font-weight="bold" fill="#222">10<tspan font-size="8" dx="-0.3" dy="-5.0">1</tspan></text>
<text transform="translate(110.8,215.6) scale(0.9,1)" font-size="9.3" font-weight="bold" fill="#222">10<tspan font-size="8" dx="-0.3" dy="-5.0">2</tspan></text>
<text transform="translate(133.2,215.6) scale(0.9,1)" font-size="9.3" font-weight="bold" fill="#222">10<tspan font-size="8" dx="-0.3" dy="-5.0">3</tspan></text>
<text transform="translate(155.5,215.6) scale(0.9,1)" font-size="9.3" font-weight="bold" fill="#222">10<tspan font-size="8" dx="-0.3" dy="-5.0">4</tspan></text>
<polyline points="189.8,204.6 193.7,203.9 195.6,200.5 197.0,193.8 198.5,186.1 199.9,176.5 200.9,166.8 201.8,159.2 202.8,154.3 204.2,152.9 206.2,154.3 207.6,159.2 209.0,166.8 210.5,174.5 211.9,181.3 213.8,189.0 215.8,195.7 218.2,199.5 220.6,202.4 223.5,203.4 227.3,203.9 230.2,203.6" fill="none" stroke="#5e5e5e" stroke-width="1.4" stroke-linejoin="round"/>
<polyline points="189.8,204.6 227.0,204.3 230.0,204.1 233.5,202.0 236.3,196.8 238.7,188.8 240.4,179.5 242.1,169.2 243.8,159.9 245.6,150.7 246.7,149.0 248.5,153.0 250.2,162.2 251.9,172.6 253.7,181.8 255.4,189.9 257.7,196.8 260.6,201.5 264.6,204.0 270.4,204.6 284.6,204.6" fill="none" stroke="#000" stroke-width="2.5" stroke-linejoin="round"/>
<path d="M188.3 135.4V204.6H285.1" fill="none" stroke="#222" stroke-width="1.9"/>
<line x1="187.4" y1="135.4" x2="286.0" y2="135.4" stroke="#444" stroke-width="1.9"/>
<line x1="285.1" y1="135.4" x2="285.1" y2="204.6" stroke="#333" stroke-width="1.9"/>
<line x1="185.1" y1="204.6" x2="188.3" y2="204.6" stroke="#333" stroke-width="0.9"/>
<line x1="186.5" y1="201.8" x2="188.3" y2="201.8" stroke="#333" stroke-width="0.9"/>
<line x1="186.5" y1="199.1" x2="188.3" y2="199.1" stroke="#333" stroke-width="0.9"/>
<line x1="186.5" y1="196.3" x2="188.3" y2="196.3" stroke="#333" stroke-width="0.9"/>
<line x1="186.5" y1="193.5" x2="188.3" y2="193.5" stroke="#333" stroke-width="0.9"/>
<line x1="185.1" y1="190.8" x2="188.3" y2="190.8" stroke="#333" stroke-width="0.9"/>
<line x1="186.5" y1="188.0" x2="188.3" y2="188.0" stroke="#333" stroke-width="0.9"/>
<line x1="186.5" y1="185.2" x2="188.3" y2="185.2" stroke="#333" stroke-width="0.9"/>
<line x1="186.5" y1="182.5" x2="188.3" y2="182.5" stroke="#333" stroke-width="0.9"/>
<line x1="186.5" y1="179.7" x2="188.3" y2="179.7" stroke="#333" stroke-width="0.9"/>
<line x1="185.1" y1="176.9" x2="188.3" y2="176.9" stroke="#333" stroke-width="0.9"/>
<line x1="186.5" y1="174.2" x2="188.3" y2="174.2" stroke="#333" stroke-width="0.9"/>
<line x1="186.5" y1="171.4" x2="188.3" y2="171.4" stroke="#333" stroke-width="0.9"/>
<line x1="186.5" y1="168.6" x2="188.3" y2="168.6" stroke="#333" stroke-width="0.9"/>
<line x1="186.5" y1="165.8" x2="188.3" y2="165.8" stroke="#333" stroke-width="0.9"/>
<line x1="185.1" y1="163.1" x2="188.3" y2="163.1" stroke="#333" stroke-width="0.9"/>
<line x1="186.5" y1="160.3" x2="188.3" y2="160.3" stroke="#333" stroke-width="0.9"/>
<line x1="186.5" y1="157.5" x2="188.3" y2="157.5" stroke="#333" stroke-width="0.9"/>
<line x1="186.5" y1="154.8" x2="188.3" y2="154.8" stroke="#333" stroke-width="0.9"/>
<line x1="186.5" y1="152.0" x2="188.3" y2="152.0" stroke="#333" stroke-width="0.9"/>
<line x1="185.1" y1="149.2" x2="188.3" y2="149.2" stroke="#333" stroke-width="0.9"/>
<line x1="186.5" y1="146.5" x2="188.3" y2="146.5" stroke="#333" stroke-width="0.9"/>
<line x1="186.5" y1="143.7" x2="188.3" y2="143.7" stroke="#333" stroke-width="0.9"/>
<line x1="186.5" y1="140.9" x2="188.3" y2="140.9" stroke="#333" stroke-width="0.9"/>
<line x1="186.5" y1="138.2" x2="188.3" y2="138.2" stroke="#333" stroke-width="0.9"/>
<line x1="185.1" y1="135.4" x2="188.3" y2="135.4" stroke="#333" stroke-width="0.9"/>
<text transform="translate(182.0,204.6) rotate(-90) scale(0.82,1.05)" font-size="9.5" font-weight="bold" fill="#222" text-anchor="middle">0</text>
<text transform="translate(182.0,190.8) rotate(-90) scale(0.82,1.05)" font-size="9.5" font-weight="bold" fill="#222" text-anchor="middle">20</text>
<text transform="translate(182.0,176.9) rotate(-90) scale(0.82,1.05)" font-size="9.5" font-weight="bold" fill="#222" text-anchor="middle">40</text>
<text transform="translate(182.0,163.1) rotate(-90) scale(0.82,1.05)" font-size="9.5" font-weight="bold" fill="#222" text-anchor="middle">60</text>
<text transform="translate(182.0,149.2) rotate(-90) scale(0.82,1.05)" font-size="9.5" font-weight="bold" fill="#222" text-anchor="middle">80</text>
<text transform="translate(182.0,135.4) rotate(-90) scale(0.82,1.05)" font-size="9.5" font-weight="bold" fill="#222" text-anchor="middle">100</text>
<line x1="188.3" y1="204.6" x2="188.3" y2="208.1" stroke="#333" stroke-width="0.9"/>
<line x1="195.6" y1="204.6" x2="195.6" y2="206.4" stroke="#333" stroke-width="0.9"/>
<line x1="199.8" y1="204.6" x2="199.8" y2="206.4" stroke="#333" stroke-width="0.9"/>
<line x1="202.9" y1="204.6" x2="202.9" y2="206.4" stroke="#333" stroke-width="0.9"/>
<line x1="205.2" y1="204.6" x2="205.2" y2="206.4" stroke="#333" stroke-width="0.9"/>
<line x1="207.1" y1="204.6" x2="207.1" y2="206.4" stroke="#333" stroke-width="0.9"/>
<line x1="208.8" y1="204.6" x2="208.8" y2="206.4" stroke="#333" stroke-width="0.9"/>
<line x1="210.2" y1="204.6" x2="210.2" y2="206.4" stroke="#333" stroke-width="0.9"/>
<line x1="211.4" y1="204.6" x2="211.4" y2="206.4" stroke="#333" stroke-width="0.9"/>
<line x1="212.5" y1="204.6" x2="212.5" y2="208.1" stroke="#333" stroke-width="0.9"/>
<line x1="219.8" y1="204.6" x2="219.8" y2="206.4" stroke="#333" stroke-width="0.9"/>
<line x1="224.0" y1="204.6" x2="224.0" y2="206.4" stroke="#333" stroke-width="0.9"/>
<line x1="227.1" y1="204.6" x2="227.1" y2="206.4" stroke="#333" stroke-width="0.9"/>
<line x1="229.4" y1="204.6" x2="229.4" y2="206.4" stroke="#333" stroke-width="0.9"/>
<line x1="231.3" y1="204.6" x2="231.3" y2="206.4" stroke="#333" stroke-width="0.9"/>
<line x1="233.0" y1="204.6" x2="233.0" y2="206.4" stroke="#333" stroke-width="0.9"/>
<line x1="234.4" y1="204.6" x2="234.4" y2="206.4" stroke="#333" stroke-width="0.9"/>
<line x1="235.6" y1="204.6" x2="235.6" y2="206.4" stroke="#333" stroke-width="0.9"/>
<line x1="236.7" y1="204.6" x2="236.7" y2="208.1" stroke="#333" stroke-width="0.9"/>
<line x1="244.0" y1="204.6" x2="244.0" y2="206.4" stroke="#333" stroke-width="0.9"/>
<line x1="248.2" y1="204.6" x2="248.2" y2="206.4" stroke="#333" stroke-width="0.9"/>
<line x1="251.3" y1="204.6" x2="251.3" y2="206.4" stroke="#333" stroke-width="0.9"/>
<line x1="253.6" y1="204.6" x2="253.6" y2="206.4" stroke="#333" stroke-width="0.9"/>
<line x1="255.5" y1="204.6" x2="255.5" y2="206.4" stroke="#333" stroke-width="0.9"/>
<line x1="257.2" y1="204.6" x2="257.2" y2="206.4" stroke="#333" stroke-width="0.9"/>
<line x1="258.6" y1="204.6" x2="258.6" y2="206.4" stroke="#333" stroke-width="0.9"/>
<line x1="259.8" y1="204.6" x2="259.8" y2="206.4" stroke="#333" stroke-width="0.9"/>
<line x1="260.9" y1="204.6" x2="260.9" y2="208.1" stroke="#333" stroke-width="0.9"/>
<line x1="268.2" y1="204.6" x2="268.2" y2="206.4" stroke="#333" stroke-width="0.9"/>
<line x1="272.4" y1="204.6" x2="272.4" y2="206.4" stroke="#333" stroke-width="0.9"/>
<line x1="275.5" y1="204.6" x2="275.5" y2="206.4" stroke="#333" stroke-width="0.9"/>
<line x1="277.8" y1="204.6" x2="277.8" y2="206.4" stroke="#333" stroke-width="0.9"/>
<line x1="279.7" y1="204.6" x2="279.7" y2="206.4" stroke="#333" stroke-width="0.9"/>
<line x1="281.4" y1="204.6" x2="281.4" y2="206.4" stroke="#333" stroke-width="0.9"/>
<line x1="282.8" y1="204.6" x2="282.8" y2="206.4" stroke="#333" stroke-width="0.9"/>
<line x1="284.0" y1="204.6" x2="284.0" y2="206.4" stroke="#333" stroke-width="0.9"/>
<line x1="285.1" y1="204.6" x2="285.1" y2="208.1" stroke="#333" stroke-width="0.9"/>
<text transform="translate(182.8,218.6) scale(0.9,1)" font-size="9.3" font-weight="bold" fill="#222">10<tspan font-size="8" dx="-0.3" dy="-5.0">0</tspan></text>
<text transform="translate(207.0,218.6) scale(0.9,1)" font-size="9.3" font-weight="bold" fill="#222">10<tspan font-size="8" dx="-0.3" dy="-5.0">1</tspan></text>
<text transform="translate(231.2,218.6) scale(0.9,1)" font-size="9.3" font-weight="bold" fill="#222">10<tspan font-size="8" dx="-0.3" dy="-5.0">2</tspan></text>
<text transform="translate(255.4,218.6) scale(0.9,1)" font-size="9.3" font-weight="bold" fill="#222">10<tspan font-size="8" dx="-0.3" dy="-5.0">3</tspan></text>
<text transform="translate(279.6,218.6) scale(0.9,1)" font-size="9.3" font-weight="bold" fill="#222">10<tspan font-size="8" dx="-0.3" dy="-5.0">4</tspan></text>
<polyline points="310.3,206.5 313.7,205.3 316.1,201.5 318.0,194.7 319.4,186.1 320.9,176.5 322.1,166.8 323.3,158.2 324.2,154.3 325.7,156.3 327.1,162.0 329.0,170.7 331.0,179.3 332.9,188.0 334.8,195.7 336.7,201.5 339.1,204.8 343.5,205.8 347.3,205.3 350.2,204.8" fill="none" stroke="#5e5e5e" stroke-width="1.4" stroke-linejoin="round"/>
<polyline points="310.3,206.5 345.0,206.1 349.6,204.9 352.5,200.3 354.8,192.2 356.5,183.0 358.3,172.6 359.8,162.2 361.2,153.6 362.1,152.4 364.0,156.5 365.8,164.5 367.5,174.9 369.2,184.2 371.5,192.2 373.8,199.2 377.3,204.3 381.9,206.1 398.2,206.5" fill="none" stroke="#000" stroke-width="2.5" stroke-linejoin="round"/>
<path d="M308.8 136.9V206.5H398.7" fill="none" stroke="#222" stroke-width="1.9"/>
<line x1="307.9" y1="136.9" x2="399.6" y2="136.9" stroke="#444" stroke-width="1.9"/>
<line x1="398.7" y1="136.9" x2="398.7" y2="206.5" stroke="#555" stroke-width="1.9"/>
<line x1="305.6" y1="206.5" x2="308.8" y2="206.5" stroke="#333" stroke-width="0.9"/>
<line x1="307.0" y1="203.7" x2="308.8" y2="203.7" stroke="#333" stroke-width="0.9"/>
<line x1="307.0" y1="200.9" x2="308.8" y2="200.9" stroke="#333" stroke-width="0.9"/>
<line x1="307.0" y1="198.1" x2="308.8" y2="198.1" stroke="#333" stroke-width="0.9"/>
<line x1="307.0" y1="195.4" x2="308.8" y2="195.4" stroke="#333" stroke-width="0.9"/>
<line x1="305.6" y1="192.6" x2="308.8" y2="192.6" stroke="#333" stroke-width="0.9"/>
<line x1="307.0" y1="189.8" x2="308.8" y2="189.8" stroke="#333" stroke-width="0.9"/>
<line x1="307.0" y1="187.0" x2="308.8" y2="187.0" stroke="#333" stroke-width="0.9"/>
<line x1="307.0" y1="184.2" x2="308.8" y2="184.2" stroke="#333" stroke-width="0.9"/>
<line x1="307.0" y1="181.4" x2="308.8" y2="181.4" stroke="#333" stroke-width="0.9"/>
<line x1="305.6" y1="178.7" x2="308.8" y2="178.7" stroke="#333" stroke-width="0.9"/>
<line x1="307.0" y1="175.9" x2="308.8" y2="175.9" stroke="#333" stroke-width="0.9"/>
<line x1="307.0" y1="173.1" x2="308.8" y2="173.1" stroke="#333" stroke-width="0.9"/>
<line x1="307.0" y1="170.3" x2="308.8" y2="170.3" stroke="#333" stroke-width="0.9"/>
<line x1="307.0" y1="167.5" x2="308.8" y2="167.5" stroke="#333" stroke-width="0.9"/>
<line x1="305.6" y1="164.7" x2="308.8" y2="164.7" stroke="#333" stroke-width="0.9"/>
<line x1="307.0" y1="162.0" x2="308.8" y2="162.0" stroke="#333" stroke-width="0.9"/>
<line x1="307.0" y1="159.2" x2="308.8" y2="159.2" stroke="#333" stroke-width="0.9"/>
<line x1="307.0" y1="156.4" x2="308.8" y2="156.4" stroke="#333" stroke-width="0.9"/>
<line x1="307.0" y1="153.6" x2="308.8" y2="153.6" stroke="#333" stroke-width="0.9"/>
<line x1="305.6" y1="150.8" x2="308.8" y2="150.8" stroke="#333" stroke-width="0.9"/>
<line x1="307.0" y1="148.0" x2="308.8" y2="148.0" stroke="#333" stroke-width="0.9"/>
<line x1="307.0" y1="145.3" x2="308.8" y2="145.3" stroke="#333" stroke-width="0.9"/>
<line x1="307.0" y1="142.5" x2="308.8" y2="142.5" stroke="#333" stroke-width="0.9"/>
<line x1="307.0" y1="139.7" x2="308.8" y2="139.7" stroke="#333" stroke-width="0.9"/>
<line x1="305.6" y1="136.9" x2="308.8" y2="136.9" stroke="#333" stroke-width="0.9"/>
<text transform="translate(302.5,206.5) rotate(-90) scale(0.82,1.05)" font-size="9.5" font-weight="bold" fill="#222" text-anchor="middle">0</text>
<text transform="translate(302.5,192.6) rotate(-90) scale(0.82,1.05)" font-size="9.5" font-weight="bold" fill="#222" text-anchor="middle">20</text>
<text transform="translate(302.5,178.7) rotate(-90) scale(0.82,1.05)" font-size="9.5" font-weight="bold" fill="#222" text-anchor="middle">40</text>
<text transform="translate(302.5,164.7) rotate(-90) scale(0.82,1.05)" font-size="9.5" font-weight="bold" fill="#222" text-anchor="middle">60</text>
<text transform="translate(302.5,150.8) rotate(-90) scale(0.82,1.05)" font-size="9.5" font-weight="bold" fill="#222" text-anchor="middle">80</text>
<text transform="translate(302.5,136.9) rotate(-90) scale(0.82,1.05)" font-size="9.5" font-weight="bold" fill="#222" text-anchor="middle">100</text>
<line x1="308.8" y1="206.5" x2="308.8" y2="210.0" stroke="#333" stroke-width="0.9"/>
<line x1="315.6" y1="206.5" x2="315.6" y2="208.3" stroke="#333" stroke-width="0.9"/>
<line x1="319.5" y1="206.5" x2="319.5" y2="208.3" stroke="#333" stroke-width="0.9"/>
<line x1="322.3" y1="206.5" x2="322.3" y2="208.3" stroke="#333" stroke-width="0.9"/>
<line x1="324.5" y1="206.5" x2="324.5" y2="208.3" stroke="#333" stroke-width="0.9"/>
<line x1="326.3" y1="206.5" x2="326.3" y2="208.3" stroke="#333" stroke-width="0.9"/>
<line x1="327.8" y1="206.5" x2="327.8" y2="208.3" stroke="#333" stroke-width="0.9"/>
<line x1="329.1" y1="206.5" x2="329.1" y2="208.3" stroke="#333" stroke-width="0.9"/>
<line x1="330.2" y1="206.5" x2="330.2" y2="208.3" stroke="#333" stroke-width="0.9"/>
<line x1="331.3" y1="206.5" x2="331.3" y2="210.0" stroke="#333" stroke-width="0.9"/>
<line x1="338.0" y1="206.5" x2="338.0" y2="208.3" stroke="#333" stroke-width="0.9"/>
<line x1="342.0" y1="206.5" x2="342.0" y2="208.3" stroke="#333" stroke-width="0.9"/>
<line x1="344.8" y1="206.5" x2="344.8" y2="208.3" stroke="#333" stroke-width="0.9"/>
<line x1="347.0" y1="206.5" x2="347.0" y2="208.3" stroke="#333" stroke-width="0.9"/>
<line x1="348.8" y1="206.5" x2="348.8" y2="208.3" stroke="#333" stroke-width="0.9"/>
<line x1="350.3" y1="206.5" x2="350.3" y2="208.3" stroke="#333" stroke-width="0.9"/>
<line x1="351.6" y1="206.5" x2="351.6" y2="208.3" stroke="#333" stroke-width="0.9"/>
<line x1="352.7" y1="206.5" x2="352.7" y2="208.3" stroke="#333" stroke-width="0.9"/>
<line x1="353.8" y1="206.5" x2="353.8" y2="210.0" stroke="#333" stroke-width="0.9"/>
<line x1="360.5" y1="206.5" x2="360.5" y2="208.3" stroke="#333" stroke-width="0.9"/>
<line x1="364.5" y1="206.5" x2="364.5" y2="208.3" stroke="#333" stroke-width="0.9"/>
<line x1="367.3" y1="206.5" x2="367.3" y2="208.3" stroke="#333" stroke-width="0.9"/>
<line x1="369.5" y1="206.5" x2="369.5" y2="208.3" stroke="#333" stroke-width="0.9"/>
<line x1="371.2" y1="206.5" x2="371.2" y2="208.3" stroke="#333" stroke-width="0.9"/>
<line x1="372.7" y1="206.5" x2="372.7" y2="208.3" stroke="#333" stroke-width="0.9"/>
<line x1="374.0" y1="206.5" x2="374.0" y2="208.3" stroke="#333" stroke-width="0.9"/>
<line x1="375.2" y1="206.5" x2="375.2" y2="208.3" stroke="#333" stroke-width="0.9"/>
<line x1="376.2" y1="206.5" x2="376.2" y2="210.0" stroke="#333" stroke-width="0.9"/>
<line x1="383.0" y1="206.5" x2="383.0" y2="208.3" stroke="#333" stroke-width="0.9"/>
<line x1="386.9" y1="206.5" x2="386.9" y2="208.3" stroke="#333" stroke-width="0.9"/>
<line x1="389.8" y1="206.5" x2="389.8" y2="208.3" stroke="#333" stroke-width="0.9"/>
<line x1="391.9" y1="206.5" x2="391.9" y2="208.3" stroke="#333" stroke-width="0.9"/>
<line x1="393.7" y1="206.5" x2="393.7" y2="208.3" stroke="#333" stroke-width="0.9"/>
<line x1="395.2" y1="206.5" x2="395.2" y2="208.3" stroke="#333" stroke-width="0.9"/>
<line x1="396.5" y1="206.5" x2="396.5" y2="208.3" stroke="#333" stroke-width="0.9"/>
<line x1="397.7" y1="206.5" x2="397.7" y2="208.3" stroke="#333" stroke-width="0.9"/>
<line x1="398.7" y1="206.5" x2="398.7" y2="210.0" stroke="#333" stroke-width="0.9"/>
<text transform="translate(303.3,220.5) scale(0.9,1)" font-size="9.3" font-weight="bold" fill="#222">10<tspan font-size="8" dx="-0.3" dy="-5.0">0</tspan></text>
<text transform="translate(325.8,220.5) scale(0.9,1)" font-size="9.3" font-weight="bold" fill="#222">10<tspan font-size="8" dx="-0.3" dy="-5.0">1</tspan></text>
<text transform="translate(348.2,220.5) scale(0.9,1)" font-size="9.3" font-weight="bold" fill="#222">10<tspan font-size="8" dx="-0.3" dy="-5.0">2</tspan></text>
<text transform="translate(370.7,220.5) scale(0.9,1)" font-size="9.3" font-weight="bold" fill="#222">10<tspan font-size="8" dx="-0.3" dy="-5.0">3</tspan></text>
<text transform="translate(393.2,220.5) scale(0.9,1)" font-size="9.3" font-weight="bold" fill="#222">10<tspan font-size="8" dx="-0.3" dy="-5.0">4</tspan></text>
<polyline points="82.4,281.8 83.6,268.0 84.8,252.0 85.8,243.3 86.8,236.6 87.7,234.2 89.2,238.5 90.1,245.2 90.6,251.0 92.0,261.6" fill="none" stroke="#5e5e5e" stroke-width="1.4" stroke-linejoin="round"/>
<polyline points="73.3,298.8 76.7,297.6 79.1,295.2 81.0,289.5 82.4,281.8 83.4,274.1 84.5,264.5 85.8,256.8 87.2,252.9 89.2,250.5 90.6,254.8 92.0,261.6 93.5,269.3 94.9,277.0 96.8,284.7 98.8,291.4 101.2,295.2 104.5,296.2 107.4,294.3 110.6,291.7 113.8,289.9 116.5,291.2 119.6,293.3 122.8,295.4 126.0,297.3 129.2,298.3 161.5,298.6" fill="none" stroke="#000" stroke-width="2.5" stroke-linejoin="round"/>
<path d="M72.6 226.5V298.8H162.2" fill="none" stroke="#222" stroke-width="1.9"/>
<line x1="71.7" y1="226.5" x2="163.1" y2="226.5" stroke="#444" stroke-width="1.9"/>
<line x1="162.2" y1="226.5" x2="162.2" y2="298.8" stroke="#333" stroke-width="1.9"/>
<line x1="69.4" y1="298.8" x2="72.6" y2="298.8" stroke="#333" stroke-width="0.9"/>
<line x1="70.8" y1="295.9" x2="72.6" y2="295.9" stroke="#333" stroke-width="0.9"/>
<line x1="70.8" y1="293.0" x2="72.6" y2="293.0" stroke="#333" stroke-width="0.9"/>
<line x1="70.8" y1="290.1" x2="72.6" y2="290.1" stroke="#333" stroke-width="0.9"/>
<line x1="70.8" y1="287.2" x2="72.6" y2="287.2" stroke="#333" stroke-width="0.9"/>
<line x1="69.4" y1="284.3" x2="72.6" y2="284.3" stroke="#333" stroke-width="0.9"/>
<line x1="70.8" y1="281.4" x2="72.6" y2="281.4" stroke="#333" stroke-width="0.9"/>
<line x1="70.8" y1="278.6" x2="72.6" y2="278.6" stroke="#333" stroke-width="0.9"/>
<line x1="70.8" y1="275.7" x2="72.6" y2="275.7" stroke="#333" stroke-width="0.9"/>
<line x1="70.8" y1="272.8" x2="72.6" y2="272.8" stroke="#333" stroke-width="0.9"/>
<line x1="69.4" y1="269.9" x2="72.6" y2="269.9" stroke="#333" stroke-width="0.9"/>
<line x1="70.8" y1="267.0" x2="72.6" y2="267.0" stroke="#333" stroke-width="0.9"/>
<line x1="70.8" y1="264.1" x2="72.6" y2="264.1" stroke="#333" stroke-width="0.9"/>
<line x1="70.8" y1="261.2" x2="72.6" y2="261.2" stroke="#333" stroke-width="0.9"/>
<line x1="70.8" y1="258.3" x2="72.6" y2="258.3" stroke="#333" stroke-width="0.9"/>
<line x1="69.4" y1="255.4" x2="72.6" y2="255.4" stroke="#333" stroke-width="0.9"/>
<line x1="70.8" y1="252.5" x2="72.6" y2="252.5" stroke="#333" stroke-width="0.9"/>
<line x1="70.8" y1="249.6" x2="72.6" y2="249.6" stroke="#333" stroke-width="0.9"/>
<line x1="70.8" y1="246.7" x2="72.6" y2="246.7" stroke="#333" stroke-width="0.9"/>
<line x1="70.8" y1="243.9" x2="72.6" y2="243.9" stroke="#333" stroke-width="0.9"/>
<line x1="69.4" y1="241.0" x2="72.6" y2="241.0" stroke="#333" stroke-width="0.9"/>
<line x1="70.8" y1="238.1" x2="72.6" y2="238.1" stroke="#333" stroke-width="0.9"/>
<line x1="70.8" y1="235.2" x2="72.6" y2="235.2" stroke="#333" stroke-width="0.9"/>
<line x1="70.8" y1="232.3" x2="72.6" y2="232.3" stroke="#333" stroke-width="0.9"/>
<line x1="70.8" y1="229.4" x2="72.6" y2="229.4" stroke="#333" stroke-width="0.9"/>
<line x1="69.4" y1="226.5" x2="72.6" y2="226.5" stroke="#333" stroke-width="0.9"/>
<text transform="translate(66.3,298.8) rotate(-90) scale(0.82,1.05)" font-size="9.5" font-weight="bold" fill="#222" text-anchor="middle">0</text>
<text transform="translate(66.3,284.3) rotate(-90) scale(0.82,1.05)" font-size="9.5" font-weight="bold" fill="#222" text-anchor="middle">20</text>
<text transform="translate(66.3,269.9) rotate(-90) scale(0.82,1.05)" font-size="9.5" font-weight="bold" fill="#222" text-anchor="middle">40</text>
<text transform="translate(66.3,255.4) rotate(-90) scale(0.82,1.05)" font-size="9.5" font-weight="bold" fill="#222" text-anchor="middle">60</text>
<text transform="translate(66.3,241.0) rotate(-90) scale(0.82,1.05)" font-size="9.5" font-weight="bold" fill="#222" text-anchor="middle">80</text>
<text transform="translate(66.3,226.5) rotate(-90) scale(0.82,1.05)" font-size="9.5" font-weight="bold" fill="#222" text-anchor="middle">100</text>
<line x1="72.6" y1="298.8" x2="72.6" y2="302.3" stroke="#333" stroke-width="0.9"/>
<line x1="79.3" y1="298.8" x2="79.3" y2="300.6" stroke="#333" stroke-width="0.9"/>
<line x1="83.3" y1="298.8" x2="83.3" y2="300.6" stroke="#333" stroke-width="0.9"/>
<line x1="86.1" y1="298.8" x2="86.1" y2="300.6" stroke="#333" stroke-width="0.9"/>
<line x1="88.3" y1="298.8" x2="88.3" y2="300.6" stroke="#333" stroke-width="0.9"/>
<line x1="90.0" y1="298.8" x2="90.0" y2="300.6" stroke="#333" stroke-width="0.9"/>
<line x1="91.5" y1="298.8" x2="91.5" y2="300.6" stroke="#333" stroke-width="0.9"/>
<line x1="92.8" y1="298.8" x2="92.8" y2="300.6" stroke="#333" stroke-width="0.9"/>
<line x1="94.0" y1="298.8" x2="94.0" y2="300.6" stroke="#333" stroke-width="0.9"/>
<line x1="95.0" y1="298.8" x2="95.0" y2="302.3" stroke="#333" stroke-width="0.9"/>
<line x1="101.7" y1="298.8" x2="101.7" y2="300.6" stroke="#333" stroke-width="0.9"/>
<line x1="105.7" y1="298.8" x2="105.7" y2="300.6" stroke="#333" stroke-width="0.9"/>
<line x1="108.5" y1="298.8" x2="108.5" y2="300.6" stroke="#333" stroke-width="0.9"/>
<line x1="110.7" y1="298.8" x2="110.7" y2="300.6" stroke="#333" stroke-width="0.9"/>
<line x1="112.4" y1="298.8" x2="112.4" y2="300.6" stroke="#333" stroke-width="0.9"/>
<line x1="113.9" y1="298.8" x2="113.9" y2="300.6" stroke="#333" stroke-width="0.9"/>
<line x1="115.2" y1="298.8" x2="115.2" y2="300.6" stroke="#333" stroke-width="0.9"/>
<line x1="116.4" y1="298.8" x2="116.4" y2="300.6" stroke="#333" stroke-width="0.9"/>
<line x1="117.4" y1="298.8" x2="117.4" y2="302.3" stroke="#333" stroke-width="0.9"/>
<line x1="124.1" y1="298.8" x2="124.1" y2="300.6" stroke="#333" stroke-width="0.9"/>
<line x1="128.1" y1="298.8" x2="128.1" y2="300.6" stroke="#333" stroke-width="0.9"/>
<line x1="130.9" y1="298.8" x2="130.9" y2="300.6" stroke="#333" stroke-width="0.9"/>
<line x1="133.1" y1="298.8" x2="133.1" y2="300.6" stroke="#333" stroke-width="0.9"/>
<line x1="134.8" y1="298.8" x2="134.8" y2="300.6" stroke="#333" stroke-width="0.9"/>
<line x1="136.3" y1="298.8" x2="136.3" y2="300.6" stroke="#333" stroke-width="0.9"/>
<line x1="137.6" y1="298.8" x2="137.6" y2="300.6" stroke="#333" stroke-width="0.9"/>
<line x1="138.8" y1="298.8" x2="138.8" y2="300.6" stroke="#333" stroke-width="0.9"/>
<line x1="139.8" y1="298.8" x2="139.8" y2="302.3" stroke="#333" stroke-width="0.9"/>
<line x1="146.5" y1="298.8" x2="146.5" y2="300.6" stroke="#333" stroke-width="0.9"/>
<line x1="150.5" y1="298.8" x2="150.5" y2="300.6" stroke="#333" stroke-width="0.9"/>
<line x1="153.3" y1="298.8" x2="153.3" y2="300.6" stroke="#333" stroke-width="0.9"/>
<line x1="155.5" y1="298.8" x2="155.5" y2="300.6" stroke="#333" stroke-width="0.9"/>
<line x1="157.2" y1="298.8" x2="157.2" y2="300.6" stroke="#333" stroke-width="0.9"/>
<line x1="158.7" y1="298.8" x2="158.7" y2="300.6" stroke="#333" stroke-width="0.9"/>
<line x1="160.0" y1="298.8" x2="160.0" y2="300.6" stroke="#333" stroke-width="0.9"/>
<line x1="161.2" y1="298.8" x2="161.2" y2="300.6" stroke="#333" stroke-width="0.9"/>
<line x1="162.2" y1="298.8" x2="162.2" y2="302.3" stroke="#333" stroke-width="0.9"/>
<text transform="translate(67.1,312.8) scale(0.9,1)" font-size="9.3" font-weight="bold" fill="#222">10<tspan font-size="8" dx="-0.3" dy="-5.0">0</tspan></text>
<text transform="translate(89.5,312.8) scale(0.9,1)" font-size="9.3" font-weight="bold" fill="#222">10<tspan font-size="8" dx="-0.3" dy="-5.0">1</tspan></text>
<text transform="translate(111.9,312.8) scale(0.9,1)" font-size="9.3" font-weight="bold" fill="#222">10<tspan font-size="8" dx="-0.3" dy="-5.0">2</tspan></text>
<text transform="translate(134.3,312.8) scale(0.9,1)" font-size="9.3" font-weight="bold" fill="#222">10<tspan font-size="8" dx="-0.3" dy="-5.0">3</tspan></text>
<text transform="translate(156.7,312.8) scale(0.9,1)" font-size="9.3" font-weight="bold" fill="#222">10<tspan font-size="8" dx="-0.3" dy="-5.0">4</tspan></text>
<polyline points="189.3,301.6 193.7,300.6 195.6,296.7 197.0,289.0 198.5,280.4 199.9,268.8 201.3,258.3 202.8,250.6 204.2,248.5 206.2,250.6 208.1,258.3 210.0,266.9 211.9,275.6 213.8,284.2 215.8,291.9 218.2,296.7 221.5,299.1 226.3,300.6 231.2,301.5" fill="none" stroke="#5e5e5e" stroke-width="1.4" stroke-linejoin="round"/>
<polyline points="189.3,301.6 194.6,300.6 198.5,298.7 201.3,295.8 203.8,291.0 206.2,289.0 208.6,285.2 211.0,282.3 212.9,278.5 214.3,274.6 215.8,278.5 217.7,281.3 220.1,283.3 222.5,287.1 224.4,285.2 227.5,285.0 230.0,282.5 232.5,283.1 234.4,286.3 236.3,290.0 238.8,293.1 241.3,296.3 244.4,298.8 248.8,300.6 256.3,301.5 284.2,301.6" fill="none" stroke="#000" stroke-width="2.5" stroke-linejoin="round"/>
<path d="M188.3 230.6V301.6H284.8" fill="none" stroke="#222" stroke-width="1.9"/>
<line x1="187.4" y1="230.6" x2="285.7" y2="230.6" stroke="#444" stroke-width="1.9"/>
<line x1="284.8" y1="230.6" x2="284.8" y2="301.6" stroke="#333" stroke-width="1.9"/>
<line x1="185.1" y1="301.6" x2="188.3" y2="301.6" stroke="#333" stroke-width="0.9"/>
<line x1="186.5" y1="298.8" x2="188.3" y2="298.8" stroke="#333" stroke-width="0.9"/>
<line x1="186.5" y1="295.9" x2="188.3" y2="295.9" stroke="#333" stroke-width="0.9"/>
<line x1="186.5" y1="293.1" x2="188.3" y2="293.1" stroke="#333" stroke-width="0.9"/>
<line x1="186.5" y1="290.2" x2="188.3" y2="290.2" stroke="#333" stroke-width="0.9"/>
<line x1="185.1" y1="287.4" x2="188.3" y2="287.4" stroke="#333" stroke-width="0.9"/>
<line x1="186.5" y1="284.6" x2="188.3" y2="284.6" stroke="#333" stroke-width="0.9"/>
<line x1="186.5" y1="281.7" x2="188.3" y2="281.7" stroke="#333" stroke-width="0.9"/>
<line x1="186.5" y1="278.9" x2="188.3" y2="278.9" stroke="#333" stroke-width="0.9"/>
<line x1="186.5" y1="276.0" x2="188.3" y2="276.0" stroke="#333" stroke-width="0.9"/>
<line x1="185.1" y1="273.2" x2="188.3" y2="273.2" stroke="#333" stroke-width="0.9"/>
<line x1="186.5" y1="270.4" x2="188.3" y2="270.4" stroke="#333" stroke-width="0.9"/>
<line x1="186.5" y1="267.5" x2="188.3" y2="267.5" stroke="#333" stroke-width="0.9"/>
<line x1="186.5" y1="264.7" x2="188.3" y2="264.7" stroke="#333" stroke-width="0.9"/>
<line x1="186.5" y1="261.8" x2="188.3" y2="261.8" stroke="#333" stroke-width="0.9"/>
<line x1="185.1" y1="259.0" x2="188.3" y2="259.0" stroke="#333" stroke-width="0.9"/>
<line x1="186.5" y1="256.2" x2="188.3" y2="256.2" stroke="#333" stroke-width="0.9"/>
<line x1="186.5" y1="253.3" x2="188.3" y2="253.3" stroke="#333" stroke-width="0.9"/>
<line x1="186.5" y1="250.5" x2="188.3" y2="250.5" stroke="#333" stroke-width="0.9"/>
<line x1="186.5" y1="247.6" x2="188.3" y2="247.6" stroke="#333" stroke-width="0.9"/>
<line x1="185.1" y1="244.8" x2="188.3" y2="244.8" stroke="#333" stroke-width="0.9"/>
<line x1="186.5" y1="242.0" x2="188.3" y2="242.0" stroke="#333" stroke-width="0.9"/>
<line x1="186.5" y1="239.1" x2="188.3" y2="239.1" stroke="#333" stroke-width="0.9"/>
<line x1="186.5" y1="236.3" x2="188.3" y2="236.3" stroke="#333" stroke-width="0.9"/>
<line x1="186.5" y1="233.4" x2="188.3" y2="233.4" stroke="#333" stroke-width="0.9"/>
<line x1="185.1" y1="230.6" x2="188.3" y2="230.6" stroke="#333" stroke-width="0.9"/>
<text transform="translate(182.0,301.6) rotate(-90) scale(0.82,1.05)" font-size="9.5" font-weight="bold" fill="#222" text-anchor="middle">0</text>
<text transform="translate(182.0,287.4) rotate(-90) scale(0.82,1.05)" font-size="9.5" font-weight="bold" fill="#222" text-anchor="middle">20</text>
<text transform="translate(182.0,273.2) rotate(-90) scale(0.82,1.05)" font-size="9.5" font-weight="bold" fill="#222" text-anchor="middle">40</text>
<text transform="translate(182.0,259.0) rotate(-90) scale(0.82,1.05)" font-size="9.5" font-weight="bold" fill="#222" text-anchor="middle">60</text>
<text transform="translate(182.0,244.8) rotate(-90) scale(0.82,1.05)" font-size="9.5" font-weight="bold" fill="#222" text-anchor="middle">80</text>
<text transform="translate(182.0,230.6) rotate(-90) scale(0.82,1.05)" font-size="9.5" font-weight="bold" fill="#222" text-anchor="middle">100</text>
<line x1="188.3" y1="301.6" x2="188.3" y2="305.1" stroke="#333" stroke-width="0.9"/>
<line x1="195.6" y1="301.6" x2="195.6" y2="303.4" stroke="#333" stroke-width="0.9"/>
<line x1="199.8" y1="301.6" x2="199.8" y2="303.4" stroke="#333" stroke-width="0.9"/>
<line x1="202.8" y1="301.6" x2="202.8" y2="303.4" stroke="#333" stroke-width="0.9"/>
<line x1="205.2" y1="301.6" x2="205.2" y2="303.4" stroke="#333" stroke-width="0.9"/>
<line x1="207.1" y1="301.6" x2="207.1" y2="303.4" stroke="#333" stroke-width="0.9"/>
<line x1="208.7" y1="301.6" x2="208.7" y2="303.4" stroke="#333" stroke-width="0.9"/>
<line x1="210.1" y1="301.6" x2="210.1" y2="303.4" stroke="#333" stroke-width="0.9"/>
<line x1="211.3" y1="301.6" x2="211.3" y2="303.4" stroke="#333" stroke-width="0.9"/>
<line x1="212.4" y1="301.6" x2="212.4" y2="305.1" stroke="#333" stroke-width="0.9"/>
<line x1="219.7" y1="301.6" x2="219.7" y2="303.4" stroke="#333" stroke-width="0.9"/>
<line x1="223.9" y1="301.6" x2="223.9" y2="303.4" stroke="#333" stroke-width="0.9"/>
<line x1="226.9" y1="301.6" x2="226.9" y2="303.4" stroke="#333" stroke-width="0.9"/>
<line x1="229.3" y1="301.6" x2="229.3" y2="303.4" stroke="#333" stroke-width="0.9"/>
<line x1="231.2" y1="301.6" x2="231.2" y2="303.4" stroke="#333" stroke-width="0.9"/>
<line x1="232.8" y1="301.6" x2="232.8" y2="303.4" stroke="#333" stroke-width="0.9"/>
<line x1="234.2" y1="301.6" x2="234.2" y2="303.4" stroke="#333" stroke-width="0.9"/>
<line x1="235.4" y1="301.6" x2="235.4" y2="303.4" stroke="#333" stroke-width="0.9"/>
<line x1="236.6" y1="301.6" x2="236.6" y2="305.1" stroke="#333" stroke-width="0.9"/>
<line x1="243.8" y1="301.6" x2="243.8" y2="303.4" stroke="#333" stroke-width="0.9"/>
<line x1="248.1" y1="301.6" x2="248.1" y2="303.4" stroke="#333" stroke-width="0.9"/>
<line x1="251.1" y1="301.6" x2="251.1" y2="303.4" stroke="#333" stroke-width="0.9"/>
<line x1="253.4" y1="301.6" x2="253.4" y2="303.4" stroke="#333" stroke-width="0.9"/>
<line x1="255.3" y1="301.6" x2="255.3" y2="303.4" stroke="#333" stroke-width="0.9"/>
<line x1="256.9" y1="301.6" x2="256.9" y2="303.4" stroke="#333" stroke-width="0.9"/>
<line x1="258.3" y1="301.6" x2="258.3" y2="303.4" stroke="#333" stroke-width="0.9"/>
<line x1="259.6" y1="301.6" x2="259.6" y2="303.4" stroke="#333" stroke-width="0.9"/>
<line x1="260.7" y1="301.6" x2="260.7" y2="305.1" stroke="#333" stroke-width="0.9"/>
<line x1="267.9" y1="301.6" x2="267.9" y2="303.4" stroke="#333" stroke-width="0.9"/>
<line x1="272.2" y1="301.6" x2="272.2" y2="303.4" stroke="#333" stroke-width="0.9"/>
<line x1="275.2" y1="301.6" x2="275.2" y2="303.4" stroke="#333" stroke-width="0.9"/>
<line x1="277.5" y1="301.6" x2="277.5" y2="303.4" stroke="#333" stroke-width="0.9"/>
<line x1="279.4" y1="301.6" x2="279.4" y2="303.4" stroke="#333" stroke-width="0.9"/>
<line x1="281.1" y1="301.6" x2="281.1" y2="303.4" stroke="#333" stroke-width="0.9"/>
<line x1="282.5" y1="301.6" x2="282.5" y2="303.4" stroke="#333" stroke-width="0.9"/>
<line x1="283.7" y1="301.6" x2="283.7" y2="303.4" stroke="#333" stroke-width="0.9"/>
<line x1="284.8" y1="301.6" x2="284.8" y2="305.1" stroke="#333" stroke-width="0.9"/>
<text transform="translate(182.8,315.6) scale(0.9,1)" font-size="9.3" font-weight="bold" fill="#222">10<tspan font-size="8" dx="-0.3" dy="-5.0">0</tspan></text>
<text transform="translate(206.9,315.6) scale(0.9,1)" font-size="9.3" font-weight="bold" fill="#222">10<tspan font-size="8" dx="-0.3" dy="-5.0">1</tspan></text>
<text transform="translate(231.1,315.6) scale(0.9,1)" font-size="9.3" font-weight="bold" fill="#222">10<tspan font-size="8" dx="-0.3" dy="-5.0">2</tspan></text>
<text transform="translate(255.2,315.6) scale(0.9,1)" font-size="9.3" font-weight="bold" fill="#222">10<tspan font-size="8" dx="-0.3" dy="-5.0">3</tspan></text>
<text transform="translate(279.3,315.6) scale(0.9,1)" font-size="9.3" font-weight="bold" fill="#222">10<tspan font-size="8" dx="-0.3" dy="-5.0">4</tspan></text>
<polyline points="320.4,275.6 321.8,265.0 322.6,257.0 323.4,251.5 324.7,248.2 326.0,251.5 326.8,256.0 327.6,262.0" fill="none" stroke="#5e5e5e" stroke-width="1.4" stroke-linejoin="round"/>
<polyline points="309.3,301.3 313.7,300.1 316.1,297.7 317.5,292.9 318.9,285.2 320.4,275.6 321.8,266.0 322.8,259.2 323.8,255.4 324.7,252.5 325.7,255.4 327.1,262.1 328.6,268.8 330.0,275.6 331.9,282.3 333.8,288.1 335.8,292.9 338.2,296.7 340.6,298.2 343.5,296.3 346.3,294.3 348.5,293.0 351.0,292.9 353.7,294.0 356.5,296.9 360.0,299.2 363.5,300.6 398.1,301.1" fill="none" stroke="#000" stroke-width="2.5" stroke-linejoin="round"/>
<path d="M308.8 231.0V301.3H398.7" fill="none" stroke="#222" stroke-width="1.9"/>
<line x1="307.9" y1="231.0" x2="399.6" y2="231.0" stroke="#444" stroke-width="1.9"/>
<line x1="398.7" y1="231.0" x2="398.7" y2="301.3" stroke="#555" stroke-width="1.9"/>
<line x1="305.6" y1="301.3" x2="308.8" y2="301.3" stroke="#333" stroke-width="0.9"/>
<line x1="307.0" y1="298.5" x2="308.8" y2="298.5" stroke="#333" stroke-width="0.9"/>
<line x1="307.0" y1="295.7" x2="308.8" y2="295.7" stroke="#333" stroke-width="0.9"/>
<line x1="307.0" y1="292.9" x2="308.8" y2="292.9" stroke="#333" stroke-width="0.9"/>
<line x1="307.0" y1="290.1" x2="308.8" y2="290.1" stroke="#333" stroke-width="0.9"/>
<line x1="305.6" y1="287.2" x2="308.8" y2="287.2" stroke="#333" stroke-width="0.9"/>
<line x1="307.0" y1="284.4" x2="308.8" y2="284.4" stroke="#333" stroke-width="0.9"/>
<line x1="307.0" y1="281.6" x2="308.8" y2="281.6" stroke="#333" stroke-width="0.9"/>
<line x1="307.0" y1="278.8" x2="308.8" y2="278.8" stroke="#333" stroke-width="0.9"/>
<line x1="307.0" y1="276.0" x2="308.8" y2="276.0" stroke="#333" stroke-width="0.9"/>
<line x1="305.6" y1="273.2" x2="308.8" y2="273.2" stroke="#333" stroke-width="0.9"/>
<line x1="307.0" y1="270.4" x2="308.8" y2="270.4" stroke="#333" stroke-width="0.9"/>
<line x1="307.0" y1="267.6" x2="308.8" y2="267.6" stroke="#333" stroke-width="0.9"/>
<line x1="307.0" y1="264.7" x2="308.8" y2="264.7" stroke="#333" stroke-width="0.9"/>
<line x1="307.0" y1="261.9" x2="308.8" y2="261.9" stroke="#333" stroke-width="0.9"/>
<line x1="305.6" y1="259.1" x2="308.8" y2="259.1" stroke="#333" stroke-width="0.9"/>
<line x1="307.0" y1="256.3" x2="308.8" y2="256.3" stroke="#333" stroke-width="0.9"/>
<line x1="307.0" y1="253.5" x2="308.8" y2="253.5" stroke="#333" stroke-width="0.9"/>
<line x1="307.0" y1="250.7" x2="308.8" y2="250.7" stroke="#333" stroke-width="0.9"/>
<line x1="307.0" y1="247.9" x2="308.8" y2="247.9" stroke="#333" stroke-width="0.9"/>
<line x1="305.6" y1="245.1" x2="308.8" y2="245.1" stroke="#333" stroke-width="0.9"/>
<line x1="307.0" y1="242.2" x2="308.8" y2="242.2" stroke="#333" stroke-width="0.9"/>
<line x1="307.0" y1="239.4" x2="308.8" y2="239.4" stroke="#333" stroke-width="0.9"/>
<line x1="307.0" y1="236.6" x2="308.8" y2="236.6" stroke="#333" stroke-width="0.9"/>
<line x1="307.0" y1="233.8" x2="308.8" y2="233.8" stroke="#333" stroke-width="0.9"/>
<line x1="305.6" y1="231.0" x2="308.8" y2="231.0" stroke="#333" stroke-width="0.9"/>
<text transform="translate(302.5,301.3) rotate(-90) scale(0.82,1.05)" font-size="9.5" font-weight="bold" fill="#222" text-anchor="middle">0</text>
<text transform="translate(302.5,287.2) rotate(-90) scale(0.82,1.05)" font-size="9.5" font-weight="bold" fill="#222" text-anchor="middle">20</text>
<text transform="translate(302.5,273.2) rotate(-90) scale(0.82,1.05)" font-size="9.5" font-weight="bold" fill="#222" text-anchor="middle">40</text>
<text transform="translate(302.5,259.1) rotate(-90) scale(0.82,1.05)" font-size="9.5" font-weight="bold" fill="#222" text-anchor="middle">60</text>
<text transform="translate(302.5,245.1) rotate(-90) scale(0.82,1.05)" font-size="9.5" font-weight="bold" fill="#222" text-anchor="middle">80</text>
<text transform="translate(302.5,231.0) rotate(-90) scale(0.82,1.05)" font-size="9.5" font-weight="bold" fill="#222" text-anchor="middle">100</text>
<line x1="308.8" y1="301.3" x2="308.8" y2="304.8" stroke="#333" stroke-width="0.9"/>
<line x1="315.6" y1="301.3" x2="315.6" y2="303.1" stroke="#333" stroke-width="0.9"/>
<line x1="319.5" y1="301.3" x2="319.5" y2="303.1" stroke="#333" stroke-width="0.9"/>
<line x1="322.3" y1="301.3" x2="322.3" y2="303.1" stroke="#333" stroke-width="0.9"/>
<line x1="324.5" y1="301.3" x2="324.5" y2="303.1" stroke="#333" stroke-width="0.9"/>
<line x1="326.3" y1="301.3" x2="326.3" y2="303.1" stroke="#333" stroke-width="0.9"/>
<line x1="327.8" y1="301.3" x2="327.8" y2="303.1" stroke="#333" stroke-width="0.9"/>
<line x1="329.1" y1="301.3" x2="329.1" y2="303.1" stroke="#333" stroke-width="0.9"/>
<line x1="330.2" y1="301.3" x2="330.2" y2="303.1" stroke="#333" stroke-width="0.9"/>
<line x1="331.3" y1="301.3" x2="331.3" y2="304.8" stroke="#333" stroke-width="0.9"/>
<line x1="338.0" y1="301.3" x2="338.0" y2="303.1" stroke="#333" stroke-width="0.9"/>
<line x1="342.0" y1="301.3" x2="342.0" y2="303.1" stroke="#333" stroke-width="0.9"/>
<line x1="344.8" y1="301.3" x2="344.8" y2="303.1" stroke="#333" stroke-width="0.9"/>
<line x1="347.0" y1="301.3" x2="347.0" y2="303.1" stroke="#333" stroke-width="0.9"/>
<line x1="348.8" y1="301.3" x2="348.8" y2="303.1" stroke="#333" stroke-width="0.9"/>
<line x1="350.3" y1="301.3" x2="350.3" y2="303.1" stroke="#333" stroke-width="0.9"/>
<line x1="351.6" y1="301.3" x2="351.6" y2="303.1" stroke="#333" stroke-width="0.9"/>
<line x1="352.7" y1="301.3" x2="352.7" y2="303.1" stroke="#333" stroke-width="0.9"/>
<line x1="353.8" y1="301.3" x2="353.8" y2="304.8" stroke="#333" stroke-width="0.9"/>
<line x1="360.5" y1="301.3" x2="360.5" y2="303.1" stroke="#333" stroke-width="0.9"/>
<line x1="364.5" y1="301.3" x2="364.5" y2="303.1" stroke="#333" stroke-width="0.9"/>
<line x1="367.3" y1="301.3" x2="367.3" y2="303.1" stroke="#333" stroke-width="0.9"/>
<line x1="369.5" y1="301.3" x2="369.5" y2="303.1" stroke="#333" stroke-width="0.9"/>
<line x1="371.2" y1="301.3" x2="371.2" y2="303.1" stroke="#333" stroke-width="0.9"/>
<line x1="372.7" y1="301.3" x2="372.7" y2="303.1" stroke="#333" stroke-width="0.9"/>
<line x1="374.0" y1="301.3" x2="374.0" y2="303.1" stroke="#333" stroke-width="0.9"/>
<line x1="375.2" y1="301.3" x2="375.2" y2="303.1" stroke="#333" stroke-width="0.9"/>
<line x1="376.2" y1="301.3" x2="376.2" y2="304.8" stroke="#333" stroke-width="0.9"/>
<line x1="383.0" y1="301.3" x2="383.0" y2="303.1" stroke="#333" stroke-width="0.9"/>
<line x1="386.9" y1="301.3" x2="386.9" y2="303.1" stroke="#333" stroke-width="0.9"/>
<line x1="389.8" y1="301.3" x2="389.8" y2="303.1" stroke="#333" stroke-width="0.9"/>
<line x1="391.9" y1="301.3" x2="391.9" y2="303.1" stroke="#333" stroke-width="0.9"/>
<line x1="393.7" y1="301.3" x2="393.7" y2="303.1" stroke="#333" stroke-width="0.9"/>
<line x1="395.2" y1="301.3" x2="395.2" y2="303.1" stroke="#333" stroke-width="0.9"/>
<line x1="396.5" y1="301.3" x2="396.5" y2="303.1" stroke="#333" stroke-width="0.9"/>
<line x1="397.7" y1="301.3" x2="397.7" y2="303.1" stroke="#333" stroke-width="0.9"/>
<line x1="398.7" y1="301.3" x2="398.7" y2="304.8" stroke="#333" stroke-width="0.9"/>
<text transform="translate(303.3,315.3) scale(0.9,1)" font-size="9.3" font-weight="bold" fill="#222">10<tspan font-size="8" dx="-0.3" dy="-5.0">0</tspan></text>
<text transform="translate(325.8,315.3) scale(0.9,1)" font-size="9.3" font-weight="bold" fill="#222">10<tspan font-size="8" dx="-0.3" dy="-5.0">1</tspan></text>
<text transform="translate(348.2,315.3) scale(0.9,1)" font-size="9.3" font-weight="bold" fill="#222">10<tspan font-size="8" dx="-0.3" dy="-5.0">2</tspan></text>
<text transform="translate(370.7,315.3) scale(0.9,1)" font-size="9.3" font-weight="bold" fill="#222">10<tspan font-size="8" dx="-0.3" dy="-5.0">3</tspan></text>
<text transform="translate(393.2,315.3) scale(0.9,1)" font-size="9.3" font-weight="bold" fill="#222">10<tspan font-size="8" dx="-0.3" dy="-5.0">4</tspan></text>
<polyline points="73.3,394.6 77.1,393.3 79.1,389.5 80.5,383.7 81.9,374.1 83.2,364.5 84.3,353.9 85.3,345.2 86.5,337.5 87.7,333.2 89.2,336.6 90.6,345.2 92.0,354.8 93.5,364.5 94.9,373.1 96.4,380.8 98.3,387.5 100.7,391.4 104.5,392.3 108.4,393.3 112.0,394.2" fill="none" stroke="#5e5e5e" stroke-width="1.4" stroke-linejoin="round"/>
<polyline points="73.3,394.6 85.3,394.5 88.2,392.3 90.1,387.5 91.6,380.8 93.0,371.2 94.0,362.5 94.9,353.9 96.1,349.1 97.8,351.0 99.7,355.8 101.7,361.6 104.1,368.3 106.5,375.0 108.5,380.0 110.7,385.0 112.5,388.5 115.0,391.3 119.6,392.4 129.2,393.3 161.7,394.5" fill="none" stroke="#000" stroke-width="2.5" stroke-linejoin="round"/>
<path d="M72.8 325.0V394.6H162.3" fill="none" stroke="#222" stroke-width="1.9"/>
<line x1="71.9" y1="325.0" x2="163.2" y2="325.0" stroke="#444" stroke-width="1.9"/>
<line x1="162.3" y1="325.0" x2="162.3" y2="394.6" stroke="#333" stroke-width="1.9"/>
<line x1="69.6" y1="394.6" x2="72.8" y2="394.6" stroke="#333" stroke-width="0.9"/>
<line x1="71.0" y1="391.8" x2="72.8" y2="391.8" stroke="#333" stroke-width="0.9"/>
<line x1="71.0" y1="389.0" x2="72.8" y2="389.0" stroke="#333" stroke-width="0.9"/>
<line x1="71.0" y1="386.2" x2="72.8" y2="386.2" stroke="#333" stroke-width="0.9"/>
<line x1="71.0" y1="383.5" x2="72.8" y2="383.5" stroke="#333" stroke-width="0.9"/>
<line x1="69.6" y1="380.7" x2="72.8" y2="380.7" stroke="#333" stroke-width="0.9"/>
<line x1="71.0" y1="377.9" x2="72.8" y2="377.9" stroke="#333" stroke-width="0.9"/>
<line x1="71.0" y1="375.1" x2="72.8" y2="375.1" stroke="#333" stroke-width="0.9"/>
<line x1="71.0" y1="372.3" x2="72.8" y2="372.3" stroke="#333" stroke-width="0.9"/>
<line x1="71.0" y1="369.5" x2="72.8" y2="369.5" stroke="#333" stroke-width="0.9"/>
<line x1="69.6" y1="366.8" x2="72.8" y2="366.8" stroke="#333" stroke-width="0.9"/>
<line x1="71.0" y1="364.0" x2="72.8" y2="364.0" stroke="#333" stroke-width="0.9"/>
<line x1="71.0" y1="361.2" x2="72.8" y2="361.2" stroke="#333" stroke-width="0.9"/>
<line x1="71.0" y1="358.4" x2="72.8" y2="358.4" stroke="#333" stroke-width="0.9"/>
<line x1="71.0" y1="355.6" x2="72.8" y2="355.6" stroke="#333" stroke-width="0.9"/>
<line x1="69.6" y1="352.8" x2="72.8" y2="352.8" stroke="#333" stroke-width="0.9"/>
<line x1="71.0" y1="350.1" x2="72.8" y2="350.1" stroke="#333" stroke-width="0.9"/>
<line x1="71.0" y1="347.3" x2="72.8" y2="347.3" stroke="#333" stroke-width="0.9"/>
<line x1="71.0" y1="344.5" x2="72.8" y2="344.5" stroke="#333" stroke-width="0.9"/>
<line x1="71.0" y1="341.7" x2="72.8" y2="341.7" stroke="#333" stroke-width="0.9"/>
<line x1="69.6" y1="338.9" x2="72.8" y2="338.9" stroke="#333" stroke-width="0.9"/>
<line x1="71.0" y1="336.1" x2="72.8" y2="336.1" stroke="#333" stroke-width="0.9"/>
<line x1="71.0" y1="333.4" x2="72.8" y2="333.4" stroke="#333" stroke-width="0.9"/>
<line x1="71.0" y1="330.6" x2="72.8" y2="330.6" stroke="#333" stroke-width="0.9"/>
<line x1="71.0" y1="327.8" x2="72.8" y2="327.8" stroke="#333" stroke-width="0.9"/>
<line x1="69.6" y1="325.0" x2="72.8" y2="325.0" stroke="#333" stroke-width="0.9"/>
<text transform="translate(66.5,394.6) rotate(-90) scale(0.82,1.05)" font-size="9.5" font-weight="bold" fill="#222" text-anchor="middle">0</text>
<text transform="translate(66.5,380.7) rotate(-90) scale(0.82,1.05)" font-size="9.5" font-weight="bold" fill="#222" text-anchor="middle">20</text>
<text transform="translate(66.5,366.8) rotate(-90) scale(0.82,1.05)" font-size="9.5" font-weight="bold" fill="#222" text-anchor="middle">40</text>
<text transform="translate(66.5,352.8) rotate(-90) scale(0.82,1.05)" font-size="9.5" font-weight="bold" fill="#222" text-anchor="middle">60</text>
<text transform="translate(66.5,338.9) rotate(-90) scale(0.82,1.05)" font-size="9.5" font-weight="bold" fill="#222" text-anchor="middle">80</text>
<text transform="translate(66.5,325.0) rotate(-90) scale(0.82,1.05)" font-size="9.5" font-weight="bold" fill="#222" text-anchor="middle">100</text>
<line x1="72.8" y1="394.6" x2="72.8" y2="398.1" stroke="#333" stroke-width="0.9"/>
<line x1="79.5" y1="394.6" x2="79.5" y2="396.4" stroke="#333" stroke-width="0.9"/>
<line x1="83.5" y1="394.6" x2="83.5" y2="396.4" stroke="#333" stroke-width="0.9"/>
<line x1="86.3" y1="394.6" x2="86.3" y2="396.4" stroke="#333" stroke-width="0.9"/>
<line x1="88.4" y1="394.6" x2="88.4" y2="396.4" stroke="#333" stroke-width="0.9"/>
<line x1="90.2" y1="394.6" x2="90.2" y2="396.4" stroke="#333" stroke-width="0.9"/>
<line x1="91.7" y1="394.6" x2="91.7" y2="396.4" stroke="#333" stroke-width="0.9"/>
<line x1="93.0" y1="394.6" x2="93.0" y2="396.4" stroke="#333" stroke-width="0.9"/>
<line x1="94.2" y1="394.6" x2="94.2" y2="396.4" stroke="#333" stroke-width="0.9"/>
<line x1="95.2" y1="394.6" x2="95.2" y2="398.1" stroke="#333" stroke-width="0.9"/>
<line x1="101.9" y1="394.6" x2="101.9" y2="396.4" stroke="#333" stroke-width="0.9"/>
<line x1="105.9" y1="394.6" x2="105.9" y2="396.4" stroke="#333" stroke-width="0.9"/>
<line x1="108.6" y1="394.6" x2="108.6" y2="396.4" stroke="#333" stroke-width="0.9"/>
<line x1="110.8" y1="394.6" x2="110.8" y2="396.4" stroke="#333" stroke-width="0.9"/>
<line x1="112.6" y1="394.6" x2="112.6" y2="396.4" stroke="#333" stroke-width="0.9"/>
<line x1="114.1" y1="394.6" x2="114.1" y2="396.4" stroke="#333" stroke-width="0.9"/>
<line x1="115.4" y1="394.6" x2="115.4" y2="396.4" stroke="#333" stroke-width="0.9"/>
<line x1="116.5" y1="394.6" x2="116.5" y2="396.4" stroke="#333" stroke-width="0.9"/>
<line x1="117.6" y1="394.6" x2="117.6" y2="398.1" stroke="#333" stroke-width="0.9"/>
<line x1="124.3" y1="394.6" x2="124.3" y2="396.4" stroke="#333" stroke-width="0.9"/>
<line x1="128.2" y1="394.6" x2="128.2" y2="396.4" stroke="#333" stroke-width="0.9"/>
<line x1="131.0" y1="394.6" x2="131.0" y2="396.4" stroke="#333" stroke-width="0.9"/>
<line x1="133.2" y1="394.6" x2="133.2" y2="396.4" stroke="#333" stroke-width="0.9"/>
<line x1="135.0" y1="394.6" x2="135.0" y2="396.4" stroke="#333" stroke-width="0.9"/>
<line x1="136.5" y1="394.6" x2="136.5" y2="396.4" stroke="#333" stroke-width="0.9"/>
<line x1="137.8" y1="394.6" x2="137.8" y2="396.4" stroke="#333" stroke-width="0.9"/>
<line x1="138.9" y1="394.6" x2="138.9" y2="396.4" stroke="#333" stroke-width="0.9"/>
<line x1="139.9" y1="394.6" x2="139.9" y2="398.1" stroke="#333" stroke-width="0.9"/>
<line x1="146.7" y1="394.6" x2="146.7" y2="396.4" stroke="#333" stroke-width="0.9"/>
<line x1="150.6" y1="394.6" x2="150.6" y2="396.4" stroke="#333" stroke-width="0.9"/>
<line x1="153.4" y1="394.6" x2="153.4" y2="396.4" stroke="#333" stroke-width="0.9"/>
<line x1="155.6" y1="394.6" x2="155.6" y2="396.4" stroke="#333" stroke-width="0.9"/>
<line x1="157.3" y1="394.6" x2="157.3" y2="396.4" stroke="#333" stroke-width="0.9"/>
<line x1="158.8" y1="394.6" x2="158.8" y2="396.4" stroke="#333" stroke-width="0.9"/>
<line x1="160.1" y1="394.6" x2="160.1" y2="396.4" stroke="#333" stroke-width="0.9"/>
<line x1="161.3" y1="394.6" x2="161.3" y2="396.4" stroke="#333" stroke-width="0.9"/>
<line x1="162.3" y1="394.6" x2="162.3" y2="398.1" stroke="#333" stroke-width="0.9"/>
<text transform="translate(67.3,408.6) scale(0.9,1)" font-size="9.3" font-weight="bold" fill="#222">10<tspan font-size="8" dx="-0.3" dy="-5.0">0</tspan></text>
<text transform="translate(89.7,408.6) scale(0.9,1)" font-size="9.3" font-weight="bold" fill="#222">10<tspan font-size="8" dx="-0.3" dy="-5.0">1</tspan></text>
<text transform="translate(112.1,408.6) scale(0.9,1)" font-size="9.3" font-weight="bold" fill="#222">10<tspan font-size="8" dx="-0.3" dy="-5.0">2</tspan></text>
<text transform="translate(134.4,408.6) scale(0.9,1)" font-size="9.3" font-weight="bold" fill="#222">10<tspan font-size="8" dx="-0.3" dy="-5.0">3</tspan></text>
<text transform="translate(156.8,408.6) scale(0.9,1)" font-size="9.3" font-weight="bold" fill="#222">10<tspan font-size="8" dx="-0.3" dy="-5.0">4</tspan></text>
<polyline points="189.3,397.8 193.7,397.0 195.6,393.7 197.0,386.0 198.5,377.3 199.9,366.7 200.9,357.1 202.3,349.4 204.2,345.1 206.2,346.5 208.1,353.3 209.5,361.9 211.0,370.6 212.4,378.3 214.3,385.0 216.7,390.8 219.6,394.6 223.5,396.1 228.3,397.3" fill="none" stroke="#5e5e5e" stroke-width="1.4" stroke-linejoin="round"/>
<polyline points="189.3,397.8 202.3,397.8 206.2,395.6 209.0,389.8 211.0,383.1 212.9,378.3 214.8,375.4 217.7,372.5 220.1,369.6 222.0,368.7 223.9,370.6 226.3,372.3 228.8,374.4 231.2,378.5 233.3,382.5 235.5,386.5 237.5,389.4 240.6,392.5 245.0,394.4 250.0,396.0 257.5,396.9 284.4,397.6" fill="none" stroke="#000" stroke-width="2.5" stroke-linejoin="round"/>
<path d="M188.3 326.8V397.8H285.0" fill="none" stroke="#222" stroke-width="1.9"/>
<line x1="187.4" y1="326.8" x2="285.9" y2="326.8" stroke="#444" stroke-width="1.9"/>
<line x1="285.0" y1="326.8" x2="285.0" y2="397.8" stroke="#333" stroke-width="1.9"/>
<line x1="185.1" y1="397.8" x2="188.3" y2="397.8" stroke="#333" stroke-width="0.9"/>
<line x1="186.5" y1="395.0" x2="188.3" y2="395.0" stroke="#333" stroke-width="0.9"/>
<line x1="186.5" y1="392.1" x2="188.3" y2="392.1" stroke="#333" stroke-width="0.9"/>
<line x1="186.5" y1="389.3" x2="188.3" y2="389.3" stroke="#333" stroke-width="0.9"/>
<line x1="186.5" y1="386.4" x2="188.3" y2="386.4" stroke="#333" stroke-width="0.9"/>
<line x1="185.1" y1="383.6" x2="188.3" y2="383.6" stroke="#333" stroke-width="0.9"/>
<line x1="186.5" y1="380.8" x2="188.3" y2="380.8" stroke="#333" stroke-width="0.9"/>
<line x1="186.5" y1="377.9" x2="188.3" y2="377.9" stroke="#333" stroke-width="0.9"/>
<line x1="186.5" y1="375.1" x2="188.3" y2="375.1" stroke="#333" stroke-width="0.9"/>
<line x1="186.5" y1="372.2" x2="188.3" y2="372.2" stroke="#333" stroke-width="0.9"/>
<line x1="185.1" y1="369.4" x2="188.3" y2="369.4" stroke="#333" stroke-width="0.9"/>
<line x1="186.5" y1="366.6" x2="188.3" y2="366.6" stroke="#333" stroke-width="0.9"/>
<line x1="186.5" y1="363.7" x2="188.3" y2="363.7" stroke="#333" stroke-width="0.9"/>
<line x1="186.5" y1="360.9" x2="188.3" y2="360.9" stroke="#333" stroke-width="0.9"/>
<line x1="186.5" y1="358.0" x2="188.3" y2="358.0" stroke="#333" stroke-width="0.9"/>
<line x1="185.1" y1="355.2" x2="188.3" y2="355.2" stroke="#333" stroke-width="0.9"/>
<line x1="186.5" y1="352.4" x2="188.3" y2="352.4" stroke="#333" stroke-width="0.9"/>
<line x1="186.5" y1="349.5" x2="188.3" y2="349.5" stroke="#333" stroke-width="0.9"/>
<line x1="186.5" y1="346.7" x2="188.3" y2="346.7" stroke="#333" stroke-width="0.9"/>
<line x1="186.5" y1="343.8" x2="188.3" y2="343.8" stroke="#333" stroke-width="0.9"/>
<line x1="185.1" y1="341.0" x2="188.3" y2="341.0" stroke="#333" stroke-width="0.9"/>
<line x1="186.5" y1="338.2" x2="188.3" y2="338.2" stroke="#333" stroke-width="0.9"/>
<line x1="186.5" y1="335.3" x2="188.3" y2="335.3" stroke="#333" stroke-width="0.9"/>
<line x1="186.5" y1="332.5" x2="188.3" y2="332.5" stroke="#333" stroke-width="0.9"/>
<line x1="186.5" y1="329.6" x2="188.3" y2="329.6" stroke="#333" stroke-width="0.9"/>
<line x1="185.1" y1="326.8" x2="188.3" y2="326.8" stroke="#333" stroke-width="0.9"/>
<text transform="translate(182.0,397.8) rotate(-90) scale(0.82,1.05)" font-size="9.5" font-weight="bold" fill="#222" text-anchor="middle">0</text>
<text transform="translate(182.0,383.6) rotate(-90) scale(0.82,1.05)" font-size="9.5" font-weight="bold" fill="#222" text-anchor="middle">20</text>
<text transform="translate(182.0,369.4) rotate(-90) scale(0.82,1.05)" font-size="9.5" font-weight="bold" fill="#222" text-anchor="middle">40</text>
<text transform="translate(182.0,355.2) rotate(-90) scale(0.82,1.05)" font-size="9.5" font-weight="bold" fill="#222" text-anchor="middle">60</text>
<text transform="translate(182.0,341.0) rotate(-90) scale(0.82,1.05)" font-size="9.5" font-weight="bold" fill="#222" text-anchor="middle">80</text>
<text transform="translate(182.0,326.8) rotate(-90) scale(0.82,1.05)" font-size="9.5" font-weight="bold" fill="#222" text-anchor="middle">100</text>
<line x1="188.3" y1="397.8" x2="188.3" y2="401.3" stroke="#333" stroke-width="0.9"/>
<line x1="195.6" y1="397.8" x2="195.6" y2="399.6" stroke="#333" stroke-width="0.9"/>
<line x1="199.8" y1="397.8" x2="199.8" y2="399.6" stroke="#333" stroke-width="0.9"/>
<line x1="202.9" y1="397.8" x2="202.9" y2="399.6" stroke="#333" stroke-width="0.9"/>
<line x1="205.2" y1="397.8" x2="205.2" y2="399.6" stroke="#333" stroke-width="0.9"/>
<line x1="207.1" y1="397.8" x2="207.1" y2="399.6" stroke="#333" stroke-width="0.9"/>
<line x1="208.7" y1="397.8" x2="208.7" y2="399.6" stroke="#333" stroke-width="0.9"/>
<line x1="210.1" y1="397.8" x2="210.1" y2="399.6" stroke="#333" stroke-width="0.9"/>
<line x1="211.4" y1="397.8" x2="211.4" y2="399.6" stroke="#333" stroke-width="0.9"/>
<line x1="212.5" y1="397.8" x2="212.5" y2="401.3" stroke="#333" stroke-width="0.9"/>
<line x1="219.8" y1="397.8" x2="219.8" y2="399.6" stroke="#333" stroke-width="0.9"/>
<line x1="224.0" y1="397.8" x2="224.0" y2="399.6" stroke="#333" stroke-width="0.9"/>
<line x1="227.0" y1="397.8" x2="227.0" y2="399.6" stroke="#333" stroke-width="0.9"/>
<line x1="229.4" y1="397.8" x2="229.4" y2="399.6" stroke="#333" stroke-width="0.9"/>
<line x1="231.3" y1="397.8" x2="231.3" y2="399.6" stroke="#333" stroke-width="0.9"/>
<line x1="232.9" y1="397.8" x2="232.9" y2="399.6" stroke="#333" stroke-width="0.9"/>
<line x1="234.3" y1="397.8" x2="234.3" y2="399.6" stroke="#333" stroke-width="0.9"/>
<line x1="235.5" y1="397.8" x2="235.5" y2="399.6" stroke="#333" stroke-width="0.9"/>
<line x1="236.7" y1="397.8" x2="236.7" y2="401.3" stroke="#333" stroke-width="0.9"/>
<line x1="243.9" y1="397.8" x2="243.9" y2="399.6" stroke="#333" stroke-width="0.9"/>
<line x1="248.2" y1="397.8" x2="248.2" y2="399.6" stroke="#333" stroke-width="0.9"/>
<line x1="251.2" y1="397.8" x2="251.2" y2="399.6" stroke="#333" stroke-width="0.9"/>
<line x1="253.5" y1="397.8" x2="253.5" y2="399.6" stroke="#333" stroke-width="0.9"/>
<line x1="255.5" y1="397.8" x2="255.5" y2="399.6" stroke="#333" stroke-width="0.9"/>
<line x1="257.1" y1="397.8" x2="257.1" y2="399.6" stroke="#333" stroke-width="0.9"/>
<line x1="258.5" y1="397.8" x2="258.5" y2="399.6" stroke="#333" stroke-width="0.9"/>
<line x1="259.7" y1="397.8" x2="259.7" y2="399.6" stroke="#333" stroke-width="0.9"/>
<line x1="260.8" y1="397.8" x2="260.8" y2="401.3" stroke="#333" stroke-width="0.9"/>
<line x1="268.1" y1="397.8" x2="268.1" y2="399.6" stroke="#333" stroke-width="0.9"/>
<line x1="272.4" y1="397.8" x2="272.4" y2="399.6" stroke="#333" stroke-width="0.9"/>
<line x1="275.4" y1="397.8" x2="275.4" y2="399.6" stroke="#333" stroke-width="0.9"/>
<line x1="277.7" y1="397.8" x2="277.7" y2="399.6" stroke="#333" stroke-width="0.9"/>
<line x1="279.6" y1="397.8" x2="279.6" y2="399.6" stroke="#333" stroke-width="0.9"/>
<line x1="281.3" y1="397.8" x2="281.3" y2="399.6" stroke="#333" stroke-width="0.9"/>
<line x1="282.7" y1="397.8" x2="282.7" y2="399.6" stroke="#333" stroke-width="0.9"/>
<line x1="283.9" y1="397.8" x2="283.9" y2="399.6" stroke="#333" stroke-width="0.9"/>
<line x1="285.0" y1="397.8" x2="285.0" y2="401.3" stroke="#333" stroke-width="0.9"/>
<text transform="translate(182.8,411.8) scale(0.9,1)" font-size="9.3" font-weight="bold" fill="#222">10<tspan font-size="8" dx="-0.3" dy="-5.0">0</tspan></text>
<text transform="translate(207.0,411.8) scale(0.9,1)" font-size="9.3" font-weight="bold" fill="#222">10<tspan font-size="8" dx="-0.3" dy="-5.0">1</tspan></text>
<text transform="translate(231.2,411.8) scale(0.9,1)" font-size="9.3" font-weight="bold" fill="#222">10<tspan font-size="8" dx="-0.3" dy="-5.0">2</tspan></text>
<text transform="translate(255.3,411.8) scale(0.9,1)" font-size="9.3" font-weight="bold" fill="#222">10<tspan font-size="8" dx="-0.3" dy="-5.0">3</tspan></text>
<text transform="translate(279.5,411.8) scale(0.9,1)" font-size="9.3" font-weight="bold" fill="#222">10<tspan font-size="8" dx="-0.3" dy="-5.0">4</tspan></text>
<polyline points="309.8,396.6 313.7,396.1 316.1,392.7 317.5,386.0 318.9,376.3 320.4,365.8 321.5,356.2 322.8,348.5 324.2,344.1 325.7,346.5 327.1,352.3 328.6,359.0 330.0,365.8 331.4,373.5 332.9,380.2 334.8,386.9 336.7,392.7 339.6,395.6 343.5,396.5" fill="none" stroke="#5e5e5e" stroke-width="1.4" stroke-linejoin="round"/>
<polyline points="309.8,396.6 322.3,396.4 324.7,394.6 326.6,388.8 328.1,381.2 329.5,373.5 331.0,365.8 332.9,359.0 334.8,354.2 336.7,358.1 338.7,362.9 340.6,367.7 342.5,373.5 344.4,378.5 346.5,383.5 348.8,388.0 351.2,391.5 354.0,393.5 358.0,394.7 362.3,395.2 398.1,396.3" fill="none" stroke="#000" stroke-width="2.5" stroke-linejoin="round"/>
<path d="M308.8 326.6V396.6H398.7" fill="none" stroke="#222" stroke-width="1.9"/>
<line x1="307.9" y1="326.6" x2="399.6" y2="326.6" stroke="#444" stroke-width="1.9"/>
<line x1="398.7" y1="326.6" x2="398.7" y2="396.6" stroke="#555" stroke-width="1.9"/>
<line x1="305.6" y1="396.6" x2="308.8" y2="396.6" stroke="#333" stroke-width="0.9"/>
<line x1="307.0" y1="393.8" x2="308.8" y2="393.8" stroke="#333" stroke-width="0.9"/>
<line x1="307.0" y1="391.0" x2="308.8" y2="391.0" stroke="#333" stroke-width="0.9"/>
<line x1="307.0" y1="388.2" x2="308.8" y2="388.2" stroke="#333" stroke-width="0.9"/>
<line x1="307.0" y1="385.4" x2="308.8" y2="385.4" stroke="#333" stroke-width="0.9"/>
<line x1="305.6" y1="382.6" x2="308.8" y2="382.6" stroke="#333" stroke-width="0.9"/>
<line x1="307.0" y1="379.8" x2="308.8" y2="379.8" stroke="#333" stroke-width="0.9"/>
<line x1="307.0" y1="377.0" x2="308.8" y2="377.0" stroke="#333" stroke-width="0.9"/>
<line x1="307.0" y1="374.2" x2="308.8" y2="374.2" stroke="#333" stroke-width="0.9"/>
<line x1="307.0" y1="371.4" x2="308.8" y2="371.4" stroke="#333" stroke-width="0.9"/>
<line x1="305.6" y1="368.6" x2="308.8" y2="368.6" stroke="#333" stroke-width="0.9"/>
<line x1="307.0" y1="365.8" x2="308.8" y2="365.8" stroke="#333" stroke-width="0.9"/>
<line x1="307.0" y1="363.0" x2="308.8" y2="363.0" stroke="#333" stroke-width="0.9"/>
<line x1="307.0" y1="360.2" x2="308.8" y2="360.2" stroke="#333" stroke-width="0.9"/>
<line x1="307.0" y1="357.4" x2="308.8" y2="357.4" stroke="#333" stroke-width="0.9"/>
<line x1="305.6" y1="354.6" x2="308.8" y2="354.6" stroke="#333" stroke-width="0.9"/>
<line x1="307.0" y1="351.8" x2="308.8" y2="351.8" stroke="#333" stroke-width="0.9"/>
<line x1="307.0" y1="349.0" x2="308.8" y2="349.0" stroke="#333" stroke-width="0.9"/>
<line x1="307.0" y1="346.2" x2="308.8" y2="346.2" stroke="#333" stroke-width="0.9"/>
<line x1="307.0" y1="343.4" x2="308.8" y2="343.4" stroke="#333" stroke-width="0.9"/>
<line x1="305.6" y1="340.6" x2="308.8" y2="340.6" stroke="#333" stroke-width="0.9"/>
<line x1="307.0" y1="337.8" x2="308.8" y2="337.8" stroke="#333" stroke-width="0.9"/>
<line x1="307.0" y1="335.0" x2="308.8" y2="335.0" stroke="#333" stroke-width="0.9"/>
<line x1="307.0" y1="332.2" x2="308.8" y2="332.2" stroke="#333" stroke-width="0.9"/>
<line x1="307.0" y1="329.4" x2="308.8" y2="329.4" stroke="#333" stroke-width="0.9"/>
<line x1="305.6" y1="326.6" x2="308.8" y2="326.6" stroke="#333" stroke-width="0.9"/>
<text transform="translate(302.5,396.6) rotate(-90) scale(0.82,1.05)" font-size="9.5" font-weight="bold" fill="#222" text-anchor="middle">0</text>
<text transform="translate(302.5,382.6) rotate(-90) scale(0.82,1.05)" font-size="9.5" font-weight="bold" fill="#222" text-anchor="middle">20</text>
<text transform="translate(302.5,368.6) rotate(-90) scale(0.82,1.05)" font-size="9.5" font-weight="bold" fill="#222" text-anchor="middle">40</text>
<text transform="translate(302.5,354.6) rotate(-90) scale(0.82,1.05)" font-size="9.5" font-weight="bold" fill="#222" text-anchor="middle">60</text>
<text transform="translate(302.5,340.6) rotate(-90) scale(0.82,1.05)" font-size="9.5" font-weight="bold" fill="#222" text-anchor="middle">80</text>
<text transform="translate(302.5,326.6) rotate(-90) scale(0.82,1.05)" font-size="9.5" font-weight="bold" fill="#222" text-anchor="middle">100</text>
<line x1="308.8" y1="396.6" x2="308.8" y2="400.1" stroke="#333" stroke-width="0.9"/>
<line x1="315.6" y1="396.6" x2="315.6" y2="398.4" stroke="#333" stroke-width="0.9"/>
<line x1="319.5" y1="396.6" x2="319.5" y2="398.4" stroke="#333" stroke-width="0.9"/>
<line x1="322.3" y1="396.6" x2="322.3" y2="398.4" stroke="#333" stroke-width="0.9"/>
<line x1="324.5" y1="396.6" x2="324.5" y2="398.4" stroke="#333" stroke-width="0.9"/>
<line x1="326.3" y1="396.6" x2="326.3" y2="398.4" stroke="#333" stroke-width="0.9"/>
<line x1="327.8" y1="396.6" x2="327.8" y2="398.4" stroke="#333" stroke-width="0.9"/>
<line x1="329.1" y1="396.6" x2="329.1" y2="398.4" stroke="#333" stroke-width="0.9"/>
<line x1="330.2" y1="396.6" x2="330.2" y2="398.4" stroke="#333" stroke-width="0.9"/>
<line x1="331.3" y1="396.6" x2="331.3" y2="400.1" stroke="#333" stroke-width="0.9"/>
<line x1="338.0" y1="396.6" x2="338.0" y2="398.4" stroke="#333" stroke-width="0.9"/>
<line x1="342.0" y1="396.6" x2="342.0" y2="398.4" stroke="#333" stroke-width="0.9"/>
<line x1="344.8" y1="396.6" x2="344.8" y2="398.4" stroke="#333" stroke-width="0.9"/>
<line x1="347.0" y1="396.6" x2="347.0" y2="398.4" stroke="#333" stroke-width="0.9"/>
<line x1="348.8" y1="396.6" x2="348.8" y2="398.4" stroke="#333" stroke-width="0.9"/>
<line x1="350.3" y1="396.6" x2="350.3" y2="398.4" stroke="#333" stroke-width="0.9"/>
<line x1="351.6" y1="396.6" x2="351.6" y2="398.4" stroke="#333" stroke-width="0.9"/>
<line x1="352.7" y1="396.6" x2="352.7" y2="398.4" stroke="#333" stroke-width="0.9"/>
<line x1="353.8" y1="396.6" x2="353.8" y2="400.1" stroke="#333" stroke-width="0.9"/>
<line x1="360.5" y1="396.6" x2="360.5" y2="398.4" stroke="#333" stroke-width="0.9"/>
<line x1="364.5" y1="396.6" x2="364.5" y2="398.4" stroke="#333" stroke-width="0.9"/>
<line x1="367.3" y1="396.6" x2="367.3" y2="398.4" stroke="#333" stroke-width="0.9"/>
<line x1="369.5" y1="396.6" x2="369.5" y2="398.4" stroke="#333" stroke-width="0.9"/>
<line x1="371.2" y1="396.6" x2="371.2" y2="398.4" stroke="#333" stroke-width="0.9"/>
<line x1="372.7" y1="396.6" x2="372.7" y2="398.4" stroke="#333" stroke-width="0.9"/>
<line x1="374.0" y1="396.6" x2="374.0" y2="398.4" stroke="#333" stroke-width="0.9"/>
<line x1="375.2" y1="396.6" x2="375.2" y2="398.4" stroke="#333" stroke-width="0.9"/>
<line x1="376.2" y1="396.6" x2="376.2" y2="400.1" stroke="#333" stroke-width="0.9"/>
<line x1="383.0" y1="396.6" x2="383.0" y2="398.4" stroke="#333" stroke-width="0.9"/>
<line x1="386.9" y1="396.6" x2="386.9" y2="398.4" stroke="#333" stroke-width="0.9"/>
<line x1="389.8" y1="396.6" x2="389.8" y2="398.4" stroke="#333" stroke-width="0.9"/>
<line x1="391.9" y1="396.6" x2="391.9" y2="398.4" stroke="#333" stroke-width="0.9"/>
<line x1="393.7" y1="396.6" x2="393.7" y2="398.4" stroke="#333" stroke-width="0.9"/>
<line x1="395.2" y1="396.6" x2="395.2" y2="398.4" stroke="#333" stroke-width="0.9"/>
<line x1="396.5" y1="396.6" x2="396.5" y2="398.4" stroke="#333" stroke-width="0.9"/>
<line x1="397.7" y1="396.6" x2="397.7" y2="398.4" stroke="#333" stroke-width="0.9"/>
<line x1="398.7" y1="396.6" x2="398.7" y2="400.1" stroke="#333" stroke-width="0.9"/>
<text transform="translate(303.3,410.6) scale(0.9,1)" font-size="9.3" font-weight="bold" fill="#222">10<tspan font-size="8" dx="-0.3" dy="-5.0">0</tspan></text>
<text transform="translate(325.8,410.6) scale(0.9,1)" font-size="9.3" font-weight="bold" fill="#222">10<tspan font-size="8" dx="-0.3" dy="-5.0">1</tspan></text>
<text transform="translate(348.2,410.6) scale(0.9,1)" font-size="9.3" font-weight="bold" fill="#222">10<tspan font-size="8" dx="-0.3" dy="-5.0">2</tspan></text>
<text transform="translate(370.7,410.6) scale(0.9,1)" font-size="9.3" font-weight="bold" fill="#222">10<tspan font-size="8" dx="-0.3" dy="-5.0">3</tspan></text>
<text transform="translate(393.2,410.6) scale(0.9,1)" font-size="9.3" font-weight="bold" fill="#222">10<tspan font-size="8" dx="-0.3" dy="-5.0">4</tspan></text>
<line x1="118.0" y1="488.4" x2="504.5" y2="488.4" stroke="#4a4a4a" stroke-width="2"/>
<line x1="118.0" y1="761.8" x2="503.5" y2="761.8" stroke="#000" stroke-width="1.8"/>
<line x1="118.0" y1="706.8" x2="503.5" y2="706.8" stroke="#000" stroke-width="1.8"/>
<line x1="118.0" y1="653.0" x2="503.5" y2="653.0" stroke="#000" stroke-width="1.8"/>
<line x1="118.0" y1="598.4" x2="503.5" y2="598.4" stroke="#000" stroke-width="1.8"/>
<line x1="118.0" y1="543.4" x2="503.5" y2="543.4" stroke="#000" stroke-width="1.8"/>
<line x1="503.5" y1="487.3" x2="503.5" y2="816.3" stroke="#333" stroke-width="2"/>
<rect x="156.2" y="718.2" width="52.3" height="98.1" fill="#fff" stroke="#000" stroke-width="1.9"/>
<line x1="181.5" y1="681.4" x2="181.5" y2="754.7" stroke="#000" stroke-width="1.9"/>
<line x1="176.1" y1="681.4" x2="186.5" y2="681.4" stroke="#000" stroke-width="2"/>
<line x1="176.1" y1="754.7" x2="186.5" y2="754.7" stroke="#000" stroke-width="2"/>
<rect x="337.3" y="576.2" width="2.4" height="240.1" fill="#6a6a6a"/>
<rect x="284.2" y="573.4" width="52.2" height="242.9" fill="#fff" stroke="#000" stroke-width="1.9"/>
<line x1="310.8" y1="513.9" x2="310.8" y2="632.3" stroke="#000" stroke-width="1.9"/>
<line x1="304.3" y1="513.9" x2="314.6" y2="513.9" stroke="#000" stroke-width="2"/>
<line x1="304.3" y1="632.3" x2="314.6" y2="632.3" stroke="#000" stroke-width="2"/>
<rect x="465.1" y="705.6" width="2.4" height="110.7" fill="#6a6a6a"/>
<rect x="413.5" y="702.8" width="50.7" height="113.5" fill="#fff" stroke="#000" stroke-width="1.9"/>
<line x1="438.8" y1="658.8" x2="438.8" y2="746.1" stroke="#000" stroke-width="1.9"/>
<line x1="432.3" y1="658.8" x2="443.7" y2="658.8" stroke="#000" stroke-width="2"/>
<line x1="432.3" y1="746.1" x2="443.7" y2="746.1" stroke="#000" stroke-width="2"/>
<line x1="118.0" y1="488.3" x2="118.0" y2="822.3" stroke="#000" stroke-width="2"/>
<line x1="112.0" y1="816.3" x2="503.5" y2="816.3" stroke="#000" stroke-width="2"/>
<line x1="112.0" y1="761.8" x2="118.0" y2="761.8" stroke="#000" stroke-width="1.8"/>
<line x1="112.0" y1="706.8" x2="118.0" y2="706.8" stroke="#000" stroke-width="1.8"/>
<line x1="112.0" y1="653.0" x2="118.0" y2="653.0" stroke="#000" stroke-width="1.8"/>
<line x1="112.0" y1="598.4" x2="118.0" y2="598.4" stroke="#000" stroke-width="1.8"/>
<line x1="112.0" y1="543.4" x2="118.0" y2="543.4" stroke="#000" stroke-width="1.8"/>
<line x1="112.0" y1="488.4" x2="118.0" y2="488.4" stroke="#000" stroke-width="1.8"/>
<line x1="246.0" y1="816.3" x2="246.0" y2="822.3" stroke="#000" stroke-width="1.6"/>
<line x1="374.3" y1="816.3" x2="374.3" y2="822.3" stroke="#000" stroke-width="1.6"/>
<line x1="503.3" y1="816.3" x2="503.3" y2="822.3" stroke="#000" stroke-width="1.6"/>
<text x="103.0" y="819.8" font-size="21.5" fill="#000" text-anchor="end">0</text>
<text x="103.0" y="765.3" font-size="21.5" fill="#000" text-anchor="end">10</text>
<text x="103.0" y="710.3" font-size="21.5" fill="#000" text-anchor="end">20</text>
<text x="103.0" y="656.5" font-size="21.5" fill="#000" text-anchor="end">30</text>
<text x="103.0" y="601.9" font-size="21.5" fill="#000" text-anchor="end">40</text>
<text x="103.0" y="546.9" font-size="21.5" fill="#000" text-anchor="end">50</text>
<text x="103.0" y="491.9" font-size="21.5" fill="#000" text-anchor="end">60</text>
<text x="154.3" y="850.8" font-size="23.5" fill="#000" textLength="50.0" lengthAdjust="spacingAndGlyphs">Evec</text>
<text x="285.0" y="850.8" font-size="23.5" fill="#000" textLength="43.5" lengthAdjust="spacingAndGlyphs">CC1</text>
<text x="386.3" y="850.8" font-size="23.5" fill="#000" textLength="65.0" lengthAdjust="spacingAndGlyphs">CC1/Y</text>
<rect x="457" y="842.2" width="7.6" height="2" fill="#000"/>
<text transform="translate(69.3,820) rotate(-90)" font-size="24" fill="#000" textLength="336" lengthAdjust="spacingAndGlyphs">Podoplanin expressing cells [%]</text>
</svg></body></html>
